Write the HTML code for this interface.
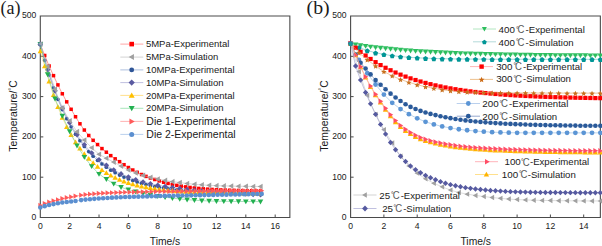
<!DOCTYPE html>
<html><head><meta charset="utf-8"><style>
html,body{margin:0;padding:0;background:#fff;width:602px;height:246px;overflow:hidden;}
svg{display:block;}
</style></head><body>
<svg width="602" height="246" viewBox="0 0 602 246">
<g font-family="Liberation Sans, sans-serif" fill="#1a1a1a">
<text x="0.5" y="13.6" font-family="Liberation Serif, serif" font-size="18">(a)</text>
<text x="0" y="13.6" font-family="Liberation Serif, serif" font-size="18" transform="translate(306.6 0) scale(1.1 1)">(b)</text>
<path d="M40.30 16.00H289.86V217.50H40.30Z" fill="none" stroke="#4a4a4a" stroke-width="1.1"/>
<text x="40.30" y="228.8" font-size="8.6" text-anchor="middle">0</text>
<line x1="69.66" y1="217.50" x2="69.66" y2="214.50" stroke="#4a4a4a" stroke-width="1"/>
<text x="69.66" y="228.8" font-size="8.6" text-anchor="middle">2</text>
<line x1="99.02" y1="217.50" x2="99.02" y2="214.50" stroke="#4a4a4a" stroke-width="1"/>
<text x="99.02" y="228.8" font-size="8.6" text-anchor="middle">4</text>
<line x1="128.38" y1="217.50" x2="128.38" y2="214.50" stroke="#4a4a4a" stroke-width="1"/>
<text x="128.38" y="228.8" font-size="8.6" text-anchor="middle">6</text>
<line x1="157.74" y1="217.50" x2="157.74" y2="214.50" stroke="#4a4a4a" stroke-width="1"/>
<text x="157.74" y="228.8" font-size="8.6" text-anchor="middle">8</text>
<line x1="187.10" y1="217.50" x2="187.10" y2="214.50" stroke="#4a4a4a" stroke-width="1"/>
<text x="187.10" y="228.8" font-size="8.6" text-anchor="middle">10</text>
<line x1="216.46" y1="217.50" x2="216.46" y2="214.50" stroke="#4a4a4a" stroke-width="1"/>
<text x="216.46" y="228.8" font-size="8.6" text-anchor="middle">12</text>
<line x1="245.82" y1="217.50" x2="245.82" y2="214.50" stroke="#4a4a4a" stroke-width="1"/>
<text x="245.82" y="228.8" font-size="8.6" text-anchor="middle">14</text>
<line x1="275.18" y1="217.50" x2="275.18" y2="214.50" stroke="#4a4a4a" stroke-width="1"/>
<text x="275.18" y="228.8" font-size="8.6" text-anchor="middle">16</text>
<text x="36.3" y="219.80" font-size="8.6" text-anchor="end">0</text>
<line x1="40.30" y1="177.20" x2="43.30" y2="177.20" stroke="#4a4a4a" stroke-width="1"/>
<text x="36.3" y="179.50" font-size="8.6" text-anchor="end">100</text>
<line x1="40.30" y1="136.90" x2="43.30" y2="136.90" stroke="#4a4a4a" stroke-width="1"/>
<text x="36.3" y="139.20" font-size="8.6" text-anchor="end">200</text>
<line x1="40.30" y1="96.60" x2="43.30" y2="96.60" stroke="#4a4a4a" stroke-width="1"/>
<text x="36.3" y="98.90" font-size="8.6" text-anchor="end">300</text>
<line x1="40.30" y1="56.30" x2="43.30" y2="56.30" stroke="#4a4a4a" stroke-width="1"/>
<text x="36.3" y="58.60" font-size="8.6" text-anchor="end">400</text>
<text x="36.3" y="18.30" font-size="8.6" text-anchor="end">500</text>
<text x="165" y="244.6" font-size="10.3" text-anchor="middle">Time/s</text>
<g transform="translate(17.2 116.0) rotate(-90)"><text x="0" y="0" font-size="10.4" text-anchor="middle">Temperature/<tspan font-size="6.8" dy="-3.4">°</tspan><tspan dy="3.4">C</tspan></text></g>
<path d="M350.60 16.00H600.35V217.50H350.60Z" fill="none" stroke="#4a4a4a" stroke-width="1.1"/>
<text x="350.60" y="228.8" font-size="8.6" text-anchor="middle">0</text>
<line x1="383.90" y1="217.50" x2="383.90" y2="214.50" stroke="#4a4a4a" stroke-width="1"/>
<text x="383.90" y="228.8" font-size="8.6" text-anchor="middle">2</text>
<line x1="417.20" y1="217.50" x2="417.20" y2="214.50" stroke="#4a4a4a" stroke-width="1"/>
<text x="417.20" y="228.8" font-size="8.6" text-anchor="middle">4</text>
<line x1="450.50" y1="217.50" x2="450.50" y2="214.50" stroke="#4a4a4a" stroke-width="1"/>
<text x="450.50" y="228.8" font-size="8.6" text-anchor="middle">6</text>
<line x1="483.80" y1="217.50" x2="483.80" y2="214.50" stroke="#4a4a4a" stroke-width="1"/>
<text x="483.80" y="228.8" font-size="8.6" text-anchor="middle">8</text>
<line x1="517.10" y1="217.50" x2="517.10" y2="214.50" stroke="#4a4a4a" stroke-width="1"/>
<text x="517.10" y="228.8" font-size="8.6" text-anchor="middle">10</text>
<line x1="550.40" y1="217.50" x2="550.40" y2="214.50" stroke="#4a4a4a" stroke-width="1"/>
<text x="550.40" y="228.8" font-size="8.6" text-anchor="middle">12</text>
<line x1="583.70" y1="217.50" x2="583.70" y2="214.50" stroke="#4a4a4a" stroke-width="1"/>
<text x="583.70" y="228.8" font-size="8.6" text-anchor="middle">14</text>
<text x="346.5" y="219.80" font-size="8.6" text-anchor="end">0</text>
<line x1="350.60" y1="177.20" x2="353.60" y2="177.20" stroke="#4a4a4a" stroke-width="1"/>
<text x="346.5" y="179.50" font-size="8.6" text-anchor="end">100</text>
<line x1="350.60" y1="136.90" x2="353.60" y2="136.90" stroke="#4a4a4a" stroke-width="1"/>
<text x="346.5" y="139.20" font-size="8.6" text-anchor="end">200</text>
<line x1="350.60" y1="96.60" x2="353.60" y2="96.60" stroke="#4a4a4a" stroke-width="1"/>
<text x="346.5" y="98.90" font-size="8.6" text-anchor="end">300</text>
<line x1="350.60" y1="56.30" x2="353.60" y2="56.30" stroke="#4a4a4a" stroke-width="1"/>
<text x="346.5" y="58.60" font-size="8.6" text-anchor="end">400</text>
<text x="346.5" y="18.30" font-size="8.6" text-anchor="end">500</text>
<text x="475.7" y="244.6" font-size="10.3" text-anchor="middle">Time/s</text>
<g transform="translate(327.5 116.0) rotate(-90)"><text x="0" y="0" font-size="10.4" text-anchor="middle">Temperature/<tspan font-size="6.8" dy="-3.4">°</tspan><tspan dy="3.4">C</tspan></text></g>
</g>
<g>
<path d="M40.30 44.21L44.70 55.49L49.11 65.97L53.51 75.64L57.92 84.91L62.32 93.78L66.72 101.84L71.13 109.29L75.53 116.75L79.94 123.80L84.34 130.05L88.74 135.49L93.15 140.33L97.55 144.56L101.96 148.59L106.36 152.21L110.76 155.64L115.17 158.86L119.57 161.68L123.98 164.71L128.38 167.53L132.78 170.01L137.19 172.32L141.59 174.52L146.00 176.39L150.40 178.01L154.80 179.49L159.21 180.89L163.61 182.23L168.02 183.42L172.42 184.45L176.82 185.35L181.23 186.16L185.63 186.87L190.04 187.46L194.44 187.97L198.84 188.42L203.25 188.81L207.65 189.15L212.06 189.44L216.46 189.69L220.86 189.91L225.27 190.10L229.67 190.25L234.08 190.38L238.48 190.50L242.88 190.61L247.29 190.71L251.69 190.79L256.10 190.86L260.50 190.90" fill="none" stroke="#ff5050" stroke-width="0.6"/>
<rect x="38.55" y="42.46" width="3.50" height="3.50" fill="#ff0000"/>
<rect x="42.95" y="53.74" width="3.50" height="3.50" fill="#ff0000"/>
<rect x="47.36" y="64.22" width="3.50" height="3.50" fill="#ff0000"/>
<rect x="51.76" y="73.89" width="3.50" height="3.50" fill="#ff0000"/>
<rect x="56.17" y="83.16" width="3.50" height="3.50" fill="#ff0000"/>
<rect x="60.57" y="92.03" width="3.50" height="3.50" fill="#ff0000"/>
<rect x="64.97" y="100.09" width="3.50" height="3.50" fill="#ff0000"/>
<rect x="69.38" y="107.54" width="3.50" height="3.50" fill="#ff0000"/>
<rect x="73.78" y="115.00" width="3.50" height="3.50" fill="#ff0000"/>
<rect x="78.19" y="122.05" width="3.50" height="3.50" fill="#ff0000"/>
<rect x="82.59" y="128.30" width="3.50" height="3.50" fill="#ff0000"/>
<rect x="86.99" y="133.74" width="3.50" height="3.50" fill="#ff0000"/>
<rect x="91.40" y="138.58" width="3.50" height="3.50" fill="#ff0000"/>
<rect x="95.80" y="142.81" width="3.50" height="3.50" fill="#ff0000"/>
<rect x="100.21" y="146.84" width="3.50" height="3.50" fill="#ff0000"/>
<rect x="104.61" y="150.46" width="3.50" height="3.50" fill="#ff0000"/>
<rect x="109.01" y="153.89" width="3.50" height="3.50" fill="#ff0000"/>
<rect x="113.42" y="157.11" width="3.50" height="3.50" fill="#ff0000"/>
<rect x="117.82" y="159.93" width="3.50" height="3.50" fill="#ff0000"/>
<rect x="122.23" y="162.96" width="3.50" height="3.50" fill="#ff0000"/>
<rect x="126.63" y="165.78" width="3.50" height="3.50" fill="#ff0000"/>
<rect x="131.03" y="168.26" width="3.50" height="3.50" fill="#ff0000"/>
<rect x="135.44" y="170.57" width="3.50" height="3.50" fill="#ff0000"/>
<rect x="139.84" y="172.77" width="3.50" height="3.50" fill="#ff0000"/>
<rect x="144.25" y="174.64" width="3.50" height="3.50" fill="#ff0000"/>
<rect x="148.65" y="176.26" width="3.50" height="3.50" fill="#ff0000"/>
<rect x="153.05" y="177.74" width="3.50" height="3.50" fill="#ff0000"/>
<rect x="157.46" y="179.14" width="3.50" height="3.50" fill="#ff0000"/>
<rect x="161.86" y="180.48" width="3.50" height="3.50" fill="#ff0000"/>
<rect x="166.27" y="181.67" width="3.50" height="3.50" fill="#ff0000"/>
<rect x="170.67" y="182.70" width="3.50" height="3.50" fill="#ff0000"/>
<rect x="175.07" y="183.60" width="3.50" height="3.50" fill="#ff0000"/>
<rect x="179.48" y="184.41" width="3.50" height="3.50" fill="#ff0000"/>
<rect x="183.88" y="185.12" width="3.50" height="3.50" fill="#ff0000"/>
<rect x="188.29" y="185.71" width="3.50" height="3.50" fill="#ff0000"/>
<rect x="192.69" y="186.22" width="3.50" height="3.50" fill="#ff0000"/>
<rect x="197.09" y="186.67" width="3.50" height="3.50" fill="#ff0000"/>
<rect x="201.50" y="187.06" width="3.50" height="3.50" fill="#ff0000"/>
<rect x="205.90" y="187.40" width="3.50" height="3.50" fill="#ff0000"/>
<rect x="210.31" y="187.69" width="3.50" height="3.50" fill="#ff0000"/>
<rect x="214.71" y="187.94" width="3.50" height="3.50" fill="#ff0000"/>
<rect x="219.11" y="188.16" width="3.50" height="3.50" fill="#ff0000"/>
<rect x="223.52" y="188.35" width="3.50" height="3.50" fill="#ff0000"/>
<rect x="227.92" y="188.50" width="3.50" height="3.50" fill="#ff0000"/>
<rect x="232.33" y="188.63" width="3.50" height="3.50" fill="#ff0000"/>
<rect x="236.73" y="188.75" width="3.50" height="3.50" fill="#ff0000"/>
<rect x="241.13" y="188.86" width="3.50" height="3.50" fill="#ff0000"/>
<rect x="245.54" y="188.96" width="3.50" height="3.50" fill="#ff0000"/>
<rect x="249.94" y="189.04" width="3.50" height="3.50" fill="#ff0000"/>
<rect x="254.35" y="189.11" width="3.50" height="3.50" fill="#ff0000"/>
<rect x="258.75" y="189.15" width="3.50" height="3.50" fill="#ff0000"/>
<path d="M40.30 44.21L44.70 60.43L49.11 74.89L53.51 87.79L57.92 99.30L62.32 109.56L66.72 118.71L71.13 126.87L75.53 134.14L79.94 140.63L84.34 146.42L88.74 151.58L93.15 156.19L97.55 160.29L101.96 163.95L106.36 167.22L110.76 170.13L115.17 172.72L119.57 175.04L123.98 177.10L128.38 178.95L132.78 180.59L137.19 182.05L141.59 183.36L146.00 184.52L150.40 185.56L154.80 186.49L159.21 187.32L163.61 188.05L168.02 188.71L172.42 189.30L176.82 189.82L181.23 190.28L185.63 190.70L190.04 191.07L194.44 191.40L198.84 191.70L203.25 191.96L207.65 192.19L212.06 192.40L216.46 192.59L220.86 192.76L225.27 192.90L229.67 193.04L234.08 193.15L238.48 193.26L242.88 193.35L247.29 193.44L251.69 193.51L256.10 193.58L260.50 193.64" fill="none" stroke="#6f8cc0" stroke-width="0.6"/>
<circle cx="40.30" cy="44.21" r="1.85" fill="#2e5597"/>
<circle cx="44.70" cy="60.43" r="1.85" fill="#2e5597"/>
<circle cx="49.11" cy="74.89" r="1.85" fill="#2e5597"/>
<circle cx="53.51" cy="87.79" r="1.85" fill="#2e5597"/>
<circle cx="57.92" cy="99.30" r="1.85" fill="#2e5597"/>
<circle cx="62.32" cy="109.56" r="1.85" fill="#2e5597"/>
<circle cx="66.72" cy="118.71" r="1.85" fill="#2e5597"/>
<circle cx="71.13" cy="126.87" r="1.85" fill="#2e5597"/>
<circle cx="75.53" cy="134.14" r="1.85" fill="#2e5597"/>
<circle cx="79.94" cy="140.63" r="1.85" fill="#2e5597"/>
<circle cx="84.34" cy="146.42" r="1.85" fill="#2e5597"/>
<circle cx="88.74" cy="151.58" r="1.85" fill="#2e5597"/>
<circle cx="93.15" cy="156.19" r="1.85" fill="#2e5597"/>
<circle cx="97.55" cy="160.29" r="1.85" fill="#2e5597"/>
<circle cx="101.96" cy="163.95" r="1.85" fill="#2e5597"/>
<circle cx="106.36" cy="167.22" r="1.85" fill="#2e5597"/>
<circle cx="110.76" cy="170.13" r="1.85" fill="#2e5597"/>
<circle cx="115.17" cy="172.72" r="1.85" fill="#2e5597"/>
<circle cx="119.57" cy="175.04" r="1.85" fill="#2e5597"/>
<circle cx="123.98" cy="177.10" r="1.85" fill="#2e5597"/>
<circle cx="128.38" cy="178.95" r="1.85" fill="#2e5597"/>
<circle cx="132.78" cy="180.59" r="1.85" fill="#2e5597"/>
<circle cx="137.19" cy="182.05" r="1.85" fill="#2e5597"/>
<circle cx="141.59" cy="183.36" r="1.85" fill="#2e5597"/>
<circle cx="146.00" cy="184.52" r="1.85" fill="#2e5597"/>
<circle cx="150.40" cy="185.56" r="1.85" fill="#2e5597"/>
<circle cx="154.80" cy="186.49" r="1.85" fill="#2e5597"/>
<circle cx="159.21" cy="187.32" r="1.85" fill="#2e5597"/>
<circle cx="163.61" cy="188.05" r="1.85" fill="#2e5597"/>
<circle cx="168.02" cy="188.71" r="1.85" fill="#2e5597"/>
<circle cx="172.42" cy="189.30" r="1.85" fill="#2e5597"/>
<circle cx="176.82" cy="189.82" r="1.85" fill="#2e5597"/>
<circle cx="181.23" cy="190.28" r="1.85" fill="#2e5597"/>
<circle cx="185.63" cy="190.70" r="1.85" fill="#2e5597"/>
<circle cx="190.04" cy="191.07" r="1.85" fill="#2e5597"/>
<circle cx="194.44" cy="191.40" r="1.85" fill="#2e5597"/>
<circle cx="198.84" cy="191.70" r="1.85" fill="#2e5597"/>
<circle cx="203.25" cy="191.96" r="1.85" fill="#2e5597"/>
<circle cx="207.65" cy="192.19" r="1.85" fill="#2e5597"/>
<circle cx="212.06" cy="192.40" r="1.85" fill="#2e5597"/>
<circle cx="216.46" cy="192.59" r="1.85" fill="#2e5597"/>
<circle cx="220.86" cy="192.76" r="1.85" fill="#2e5597"/>
<circle cx="225.27" cy="192.90" r="1.85" fill="#2e5597"/>
<circle cx="229.67" cy="193.04" r="1.85" fill="#2e5597"/>
<circle cx="234.08" cy="193.15" r="1.85" fill="#2e5597"/>
<circle cx="238.48" cy="193.26" r="1.85" fill="#2e5597"/>
<circle cx="242.88" cy="193.35" r="1.85" fill="#2e5597"/>
<circle cx="247.29" cy="193.44" r="1.85" fill="#2e5597"/>
<circle cx="251.69" cy="193.51" r="1.85" fill="#2e5597"/>
<circle cx="256.10" cy="193.58" r="1.85" fill="#2e5597"/>
<circle cx="260.50" cy="193.64" r="1.85" fill="#2e5597"/>
<path d="M40.30 44.21L47.64 69.71L54.98 90.83L62.32 108.31L69.66 122.79L77.00 134.78L84.34 144.71L91.68 152.93L99.02 159.73L106.36 165.37L113.70 170.04L121.04 173.90L128.38 177.10L135.72 179.75L143.06 181.95L150.40 183.76L157.74 185.27L165.08 186.51L172.42 187.55L179.76 188.62L187.10 189.55L194.44 190.36L201.78 191.06L209.12 191.69L216.46 192.24L223.80 192.74L231.14 193.19L238.48 193.60L245.82 193.98L253.16 194.33L260.50 194.66" fill="none" stroke="#9898c8" stroke-width="0.6"/>
<path d="M40.30 41.41L43.10 44.21L40.30 47.01L37.50 44.21Z" fill="#5a5aa0"/>
<path d="M47.64 66.91L50.44 69.71L47.64 72.51L44.84 69.71Z" fill="#5a5aa0"/>
<path d="M54.98 88.03L57.78 90.83L54.98 93.63L52.18 90.83Z" fill="#5a5aa0"/>
<path d="M62.32 105.51L65.12 108.31L62.32 111.11L59.52 108.31Z" fill="#5a5aa0"/>
<path d="M69.66 119.99L72.46 122.79L69.66 125.59L66.86 122.79Z" fill="#5a5aa0"/>
<path d="M77.00 131.98L79.80 134.78L77.00 137.58L74.20 134.78Z" fill="#5a5aa0"/>
<path d="M84.34 141.91L87.14 144.71L84.34 147.51L81.54 144.71Z" fill="#5a5aa0"/>
<path d="M91.68 150.13L94.48 152.93L91.68 155.73L88.88 152.93Z" fill="#5a5aa0"/>
<path d="M99.02 156.93L101.82 159.73L99.02 162.53L96.22 159.73Z" fill="#5a5aa0"/>
<path d="M106.36 162.57L109.16 165.37L106.36 168.17L103.56 165.37Z" fill="#5a5aa0"/>
<path d="M113.70 167.24L116.50 170.04L113.70 172.84L110.90 170.04Z" fill="#5a5aa0"/>
<path d="M121.04 171.10L123.84 173.90L121.04 176.70L118.24 173.90Z" fill="#5a5aa0"/>
<path d="M128.38 174.30L131.18 177.10L128.38 179.90L125.58 177.10Z" fill="#5a5aa0"/>
<path d="M135.72 176.95L138.52 179.75L135.72 182.55L132.92 179.75Z" fill="#5a5aa0"/>
<path d="M143.06 179.15L145.86 181.95L143.06 184.75L140.26 181.95Z" fill="#5a5aa0"/>
<path d="M150.40 180.96L153.20 183.76L150.40 186.56L147.60 183.76Z" fill="#5a5aa0"/>
<path d="M157.74 182.47L160.54 185.27L157.74 188.07L154.94 185.27Z" fill="#5a5aa0"/>
<path d="M165.08 183.71L167.88 186.51L165.08 189.31L162.28 186.51Z" fill="#5a5aa0"/>
<path d="M172.42 184.75L175.22 187.55L172.42 190.35L169.62 187.55Z" fill="#5a5aa0"/>
<path d="M179.76 185.82L182.56 188.62L179.76 191.42L176.96 188.62Z" fill="#5a5aa0"/>
<path d="M187.10 186.75L189.90 189.55L187.10 192.35L184.30 189.55Z" fill="#5a5aa0"/>
<path d="M194.44 187.56L197.24 190.36L194.44 193.16L191.64 190.36Z" fill="#5a5aa0"/>
<path d="M201.78 188.26L204.58 191.06L201.78 193.86L198.98 191.06Z" fill="#5a5aa0"/>
<path d="M209.12 188.89L211.92 191.69L209.12 194.49L206.32 191.69Z" fill="#5a5aa0"/>
<path d="M216.46 189.44L219.26 192.24L216.46 195.04L213.66 192.24Z" fill="#5a5aa0"/>
<path d="M223.80 189.94L226.60 192.74L223.80 195.54L221.00 192.74Z" fill="#5a5aa0"/>
<path d="M231.14 190.39L233.94 193.19L231.14 195.99L228.34 193.19Z" fill="#5a5aa0"/>
<path d="M238.48 190.80L241.28 193.60L238.48 196.40L235.68 193.60Z" fill="#5a5aa0"/>
<path d="M245.82 191.18L248.62 193.98L245.82 196.78L243.02 193.98Z" fill="#5a5aa0"/>
<path d="M253.16 191.53L255.96 194.33L253.16 197.13L250.36 194.33Z" fill="#5a5aa0"/>
<path d="M260.50 191.86L263.30 194.66L260.50 197.46L257.70 194.66Z" fill="#5a5aa0"/>
<path d="M40.30 44.21L47.64 66.38L54.98 89.35L62.32 107.88L69.66 120.78L77.00 131.66L84.34 140.12L91.68 147.78L99.02 154.23L106.36 158.26L113.70 162.09L121.04 166.12L128.38 169.95L135.72 172.97L143.06 175.39L150.40 177.40L157.74 179.01L165.08 180.42L172.42 181.63L179.76 182.60L187.10 183.45L194.44 184.22L201.78 184.86L209.12 185.33L216.46 185.66L223.80 185.88L231.14 186.07L238.48 186.23L245.82 186.36L253.16 186.44L260.50 186.47" fill="none" stroke="#c0c0c0" stroke-width="0.6"/>
<path d="M37.50 44.21L42.40 41.41L42.40 47.01Z" fill="#a0a0a0"/>
<path d="M44.84 66.38L49.74 63.58L49.74 69.17Z" fill="#a0a0a0"/>
<path d="M52.18 89.35L57.08 86.55L57.08 92.15Z" fill="#a0a0a0"/>
<path d="M59.52 107.88L64.42 105.08L64.42 110.68Z" fill="#a0a0a0"/>
<path d="M66.86 120.78L71.76 117.98L71.76 123.58Z" fill="#a0a0a0"/>
<path d="M74.20 131.66L79.10 128.86L79.10 134.46Z" fill="#a0a0a0"/>
<path d="M81.54 140.12L86.44 137.32L86.44 142.92Z" fill="#a0a0a0"/>
<path d="M88.88 147.78L93.78 144.98L93.78 150.58Z" fill="#a0a0a0"/>
<path d="M96.22 154.23L101.12 151.43L101.12 157.03Z" fill="#a0a0a0"/>
<path d="M103.56 158.26L108.46 155.46L108.46 161.06Z" fill="#a0a0a0"/>
<path d="M110.90 162.09L115.80 159.29L115.80 164.89Z" fill="#a0a0a0"/>
<path d="M118.24 166.12L123.14 163.32L123.14 168.92Z" fill="#a0a0a0"/>
<path d="M125.58 169.95L130.48 167.15L130.48 172.75Z" fill="#a0a0a0"/>
<path d="M132.92 172.97L137.82 170.17L137.82 175.77Z" fill="#a0a0a0"/>
<path d="M140.26 175.39L145.16 172.59L145.16 178.19Z" fill="#a0a0a0"/>
<path d="M147.60 177.40L152.50 174.60L152.50 180.20Z" fill="#a0a0a0"/>
<path d="M154.94 179.01L159.84 176.21L159.84 181.81Z" fill="#a0a0a0"/>
<path d="M162.28 180.42L167.18 177.62L167.18 183.22Z" fill="#a0a0a0"/>
<path d="M169.62 181.63L174.52 178.83L174.52 184.43Z" fill="#a0a0a0"/>
<path d="M176.96 182.60L181.86 179.80L181.86 185.40Z" fill="#a0a0a0"/>
<path d="M184.30 183.45L189.20 180.65L189.20 186.25Z" fill="#a0a0a0"/>
<path d="M191.64 184.22L196.54 181.42L196.54 187.02Z" fill="#a0a0a0"/>
<path d="M198.98 184.86L203.88 182.06L203.88 187.66Z" fill="#a0a0a0"/>
<path d="M206.32 185.33L211.22 182.53L211.22 188.13Z" fill="#a0a0a0"/>
<path d="M213.66 185.66L218.56 182.86L218.56 188.46Z" fill="#a0a0a0"/>
<path d="M221.00 185.88L225.90 183.08L225.90 188.68Z" fill="#a0a0a0"/>
<path d="M228.34 186.07L233.24 183.27L233.24 188.87Z" fill="#a0a0a0"/>
<path d="M235.68 186.23L240.58 183.43L240.58 189.03Z" fill="#a0a0a0"/>
<path d="M243.02 186.36L247.92 183.56L247.92 189.16Z" fill="#a0a0a0"/>
<path d="M250.36 186.44L255.26 183.64L255.26 189.24Z" fill="#a0a0a0"/>
<path d="M257.70 186.47L262.60 183.67L262.60 189.27Z" fill="#a0a0a0"/>
<path d="M40.30 51.26L44.70 66.22L49.11 81.42L53.51 95.06L57.92 107.07L62.32 117.62L66.72 126.89L71.13 135.03L75.53 142.18L79.94 148.45L84.34 153.97L88.74 158.81L93.15 163.06L97.55 166.80L101.96 170.08L106.36 172.96L110.76 175.48L115.17 177.71L119.57 179.66L123.98 181.37L128.38 182.87L132.78 184.20L137.19 185.36L141.59 186.37L146.00 187.27L150.40 188.06L154.80 188.75L159.21 189.35L163.61 189.88L168.02 190.35L172.42 190.76L176.82 191.12L181.23 191.44L185.63 191.72L190.04 191.96L194.44 192.18L198.84 192.36L203.25 192.53L207.65 192.68L212.06 192.80L216.46 192.92L220.86 193.01L225.27 193.10L229.67 193.18L234.08 193.24L238.48 193.30L242.88 193.35L247.29 193.40L251.69 193.44L256.10 193.47L260.50 193.50" fill="none" stroke="#ffd860" stroke-width="0.6"/>
<path d="M40.30 48.56L43.00 53.29L37.60 53.29Z" fill="#ffc000"/>
<path d="M44.70 63.52L47.40 68.24L42.00 68.24Z" fill="#ffc000"/>
<path d="M49.11 78.72L51.81 83.45L46.41 83.45Z" fill="#ffc000"/>
<path d="M53.51 92.36L56.21 97.08L50.81 97.08Z" fill="#ffc000"/>
<path d="M57.92 104.37L60.62 109.09L55.22 109.09Z" fill="#ffc000"/>
<path d="M62.32 114.92L65.02 119.64L59.62 119.64Z" fill="#ffc000"/>
<path d="M66.72 124.19L69.42 128.91L64.02 128.91Z" fill="#ffc000"/>
<path d="M71.13 132.33L73.83 137.05L68.43 137.05Z" fill="#ffc000"/>
<path d="M75.53 139.48L78.23 144.20L72.83 144.20Z" fill="#ffc000"/>
<path d="M79.94 145.75L82.64 150.48L77.24 150.48Z" fill="#ffc000"/>
<path d="M84.34 151.27L87.04 155.99L81.64 155.99Z" fill="#ffc000"/>
<path d="M88.74 156.11L91.44 160.83L86.04 160.83Z" fill="#ffc000"/>
<path d="M93.15 160.36L95.85 165.09L90.45 165.09Z" fill="#ffc000"/>
<path d="M97.55 164.10L100.25 168.82L94.85 168.82Z" fill="#ffc000"/>
<path d="M101.96 167.38L104.66 172.10L99.26 172.10Z" fill="#ffc000"/>
<path d="M106.36 170.26L109.06 174.98L103.66 174.98Z" fill="#ffc000"/>
<path d="M110.76 172.78L113.46 177.51L108.06 177.51Z" fill="#ffc000"/>
<path d="M115.17 175.01L117.87 179.73L112.47 179.73Z" fill="#ffc000"/>
<path d="M119.57 176.96L122.27 181.68L116.87 181.68Z" fill="#ffc000"/>
<path d="M123.98 178.67L126.68 183.39L121.28 183.39Z" fill="#ffc000"/>
<path d="M128.38 180.17L131.08 184.90L125.68 184.90Z" fill="#ffc000"/>
<path d="M132.78 181.50L135.48 186.22L130.08 186.22Z" fill="#ffc000"/>
<path d="M137.19 182.66L139.89 187.38L134.49 187.38Z" fill="#ffc000"/>
<path d="M141.59 183.67L144.29 188.40L138.89 188.40Z" fill="#ffc000"/>
<path d="M146.00 184.57L148.70 189.29L143.30 189.29Z" fill="#ffc000"/>
<path d="M150.40 185.36L153.10 190.08L147.70 190.08Z" fill="#ffc000"/>
<path d="M154.80 186.05L157.50 190.77L152.10 190.77Z" fill="#ffc000"/>
<path d="M159.21 186.65L161.91 191.38L156.51 191.38Z" fill="#ffc000"/>
<path d="M163.61 187.18L166.31 191.91L160.91 191.91Z" fill="#ffc000"/>
<path d="M168.02 187.65L170.72 192.38L165.32 192.38Z" fill="#ffc000"/>
<path d="M172.42 188.06L175.12 192.79L169.72 192.79Z" fill="#ffc000"/>
<path d="M176.82 188.42L179.52 193.15L174.12 193.15Z" fill="#ffc000"/>
<path d="M181.23 188.74L183.93 193.46L178.53 193.46Z" fill="#ffc000"/>
<path d="M185.63 189.02L188.33 193.74L182.93 193.74Z" fill="#ffc000"/>
<path d="M190.04 189.26L192.74 193.99L187.34 193.99Z" fill="#ffc000"/>
<path d="M194.44 189.48L197.14 194.20L191.74 194.20Z" fill="#ffc000"/>
<path d="M198.84 189.66L201.54 194.39L196.14 194.39Z" fill="#ffc000"/>
<path d="M203.25 189.83L205.95 194.56L200.55 194.56Z" fill="#ffc000"/>
<path d="M207.65 189.98L210.35 194.70L204.95 194.70Z" fill="#ffc000"/>
<path d="M212.06 190.10L214.76 194.83L209.36 194.83Z" fill="#ffc000"/>
<path d="M216.46 190.22L219.16 194.94L213.76 194.94Z" fill="#ffc000"/>
<path d="M220.86 190.31L223.56 195.04L218.16 195.04Z" fill="#ffc000"/>
<path d="M225.27 190.40L227.97 195.12L222.57 195.12Z" fill="#ffc000"/>
<path d="M229.67 190.48L232.37 195.20L226.97 195.20Z" fill="#ffc000"/>
<path d="M234.08 190.54L236.78 195.27L231.38 195.27Z" fill="#ffc000"/>
<path d="M238.48 190.60L241.18 195.33L235.78 195.33Z" fill="#ffc000"/>
<path d="M242.88 190.65L245.58 195.38L240.18 195.38Z" fill="#ffc000"/>
<path d="M247.29 190.70L249.99 195.42L244.59 195.42Z" fill="#ffc000"/>
<path d="M251.69 190.74L254.39 195.46L248.99 195.46Z" fill="#ffc000"/>
<path d="M256.10 190.77L258.80 195.50L253.40 195.50Z" fill="#ffc000"/>
<path d="M260.50 190.80L263.20 195.53L257.80 195.53Z" fill="#ffc000"/>
<path d="M40.30 44.21L47.64 74.44L54.98 98.62L62.32 115.97L69.66 131.36L77.00 145.63L84.34 157.05L91.68 166.32L99.02 173.98L106.36 179.21L113.70 183.76L121.04 187.19L128.38 189.69L135.72 191.60L143.06 193.32L150.40 194.83L157.74 196.14L165.08 197.24L172.42 198.16L179.76 198.93L187.10 199.63L194.44 200.22L201.78 200.65L209.12 200.97L216.46 201.18L223.80 201.29L231.14 201.39L238.48 201.47L245.82 201.53L253.16 201.57L260.50 201.58" fill="none" stroke="#70d090" stroke-width="0.6"/>
<path d="M40.30 47.01L43.10 42.11L37.50 42.11Z" fill="#22b050"/>
<path d="M47.64 77.23L50.44 72.34L44.84 72.34Z" fill="#22b050"/>
<path d="M54.98 101.42L57.78 96.52L52.18 96.52Z" fill="#22b050"/>
<path d="M62.32 118.77L65.12 113.87L59.52 113.87Z" fill="#22b050"/>
<path d="M69.66 134.16L72.46 129.26L66.86 129.26Z" fill="#22b050"/>
<path d="M77.00 148.43L79.80 143.53L74.20 143.53Z" fill="#22b050"/>
<path d="M84.34 159.85L87.14 154.95L81.54 154.95Z" fill="#22b050"/>
<path d="M91.68 169.12L94.48 164.22L88.88 164.22Z" fill="#22b050"/>
<path d="M99.02 176.78L101.82 171.88L96.22 171.88Z" fill="#22b050"/>
<path d="M106.36 182.01L109.16 177.11L103.56 177.11Z" fill="#22b050"/>
<path d="M113.70 186.56L116.50 181.66L110.90 181.66Z" fill="#22b050"/>
<path d="M121.04 189.99L123.84 185.09L118.24 185.09Z" fill="#22b050"/>
<path d="M128.38 192.49L131.18 187.59L125.58 187.59Z" fill="#22b050"/>
<path d="M135.72 194.40L138.52 189.50L132.92 189.50Z" fill="#22b050"/>
<path d="M143.06 196.12L145.86 191.22L140.26 191.22Z" fill="#22b050"/>
<path d="M150.40 197.63L153.20 192.73L147.60 192.73Z" fill="#22b050"/>
<path d="M157.74 198.94L160.54 194.04L154.94 194.04Z" fill="#22b050"/>
<path d="M165.08 200.04L167.88 195.14L162.28 195.14Z" fill="#22b050"/>
<path d="M172.42 200.96L175.22 196.06L169.62 196.06Z" fill="#22b050"/>
<path d="M179.76 201.73L182.56 196.83L176.96 196.83Z" fill="#22b050"/>
<path d="M187.10 202.43L189.90 197.53L184.30 197.53Z" fill="#22b050"/>
<path d="M194.44 203.02L197.24 198.12L191.64 198.12Z" fill="#22b050"/>
<path d="M201.78 203.45L204.58 198.55L198.98 198.55Z" fill="#22b050"/>
<path d="M209.12 203.77L211.92 198.87L206.32 198.87Z" fill="#22b050"/>
<path d="M216.46 203.98L219.26 199.08L213.66 199.08Z" fill="#22b050"/>
<path d="M223.80 204.09L226.60 199.19L221.00 199.19Z" fill="#22b050"/>
<path d="M231.14 204.19L233.94 199.29L228.34 199.29Z" fill="#22b050"/>
<path d="M238.48 204.27L241.28 199.37L235.68 199.37Z" fill="#22b050"/>
<path d="M245.82 204.33L248.62 199.43L243.02 199.43Z" fill="#22b050"/>
<path d="M253.16 204.37L255.96 199.47L250.36 199.47Z" fill="#22b050"/>
<path d="M260.50 204.38L263.30 199.48L257.70 199.48Z" fill="#22b050"/>
<path d="M40.30 205.41L44.70 203.53L49.11 201.98L53.51 200.83L57.92 199.77L62.32 198.59L66.72 197.69L71.13 196.89L75.53 196.11L81.11 195.13L85.51 194.60L89.92 194.16L94.32 193.78L98.73 193.44L103.13 193.17L107.53 192.94L111.94 192.74L116.34 192.56L120.75 192.40L125.15 192.27L129.55 192.14L133.96 192.03L138.36 191.92L142.77 191.83L147.17 191.74L151.57 191.66L155.98 191.59L160.38 191.52L164.79 191.45L169.19 191.39L173.59 191.33L178.00 191.28L182.40 191.23L186.81 191.19L191.21 191.15L195.61 191.11L200.02 191.07L204.42 191.03L208.83 190.99L213.23 190.96L217.63 190.92L222.04 190.89L226.44 190.86L230.85 190.83L235.25 190.80L239.65 190.78L244.06 190.75L248.46 190.74L252.87 190.72L257.27 190.71L261.67 190.70" fill="none" stroke="#ff9090" stroke-width="0.6"/>
<path d="M42.90 205.41L38.35 202.81L38.35 208.01Z" fill="#ff5a5a"/>
<path d="M47.30 203.53L42.75 200.93L42.75 206.13Z" fill="#ff5a5a"/>
<path d="M51.71 201.98L47.16 199.38L47.16 204.58Z" fill="#ff5a5a"/>
<path d="M56.11 200.83L51.56 198.23L51.56 203.43Z" fill="#ff5a5a"/>
<path d="M60.52 199.77L55.97 197.17L55.97 202.37Z" fill="#ff5a5a"/>
<path d="M64.92 198.59L60.37 195.99L60.37 201.19Z" fill="#ff5a5a"/>
<path d="M69.32 197.69L64.77 195.09L64.77 200.29Z" fill="#ff5a5a"/>
<path d="M73.73 196.89L69.18 194.29L69.18 199.49Z" fill="#ff5a5a"/>
<path d="M78.13 196.11L73.58 193.51L73.58 198.71Z" fill="#ff5a5a"/>
<path d="M83.71 195.13L79.16 192.53L79.16 197.73Z" fill="#ff5a5a"/>
<path d="M88.11 194.60L83.56 192.00L83.56 197.20Z" fill="#ff5a5a"/>
<path d="M92.52 194.16L87.97 191.56L87.97 196.76Z" fill="#ff5a5a"/>
<path d="M96.92 193.78L92.37 191.18L92.37 196.38Z" fill="#ff5a5a"/>
<path d="M101.33 193.44L96.78 190.84L96.78 196.04Z" fill="#ff5a5a"/>
<path d="M105.73 193.17L101.18 190.57L101.18 195.77Z" fill="#ff5a5a"/>
<path d="M110.13 192.94L105.58 190.34L105.58 195.54Z" fill="#ff5a5a"/>
<path d="M114.54 192.74L109.99 190.14L109.99 195.34Z" fill="#ff5a5a"/>
<path d="M118.94 192.56L114.39 189.96L114.39 195.16Z" fill="#ff5a5a"/>
<path d="M123.35 192.40L118.80 189.80L118.80 195.00Z" fill="#ff5a5a"/>
<path d="M127.75 192.27L123.20 189.67L123.20 194.87Z" fill="#ff5a5a"/>
<path d="M132.15 192.14L127.60 189.54L127.60 194.74Z" fill="#ff5a5a"/>
<path d="M136.56 192.03L132.01 189.43L132.01 194.63Z" fill="#ff5a5a"/>
<path d="M140.96 191.92L136.41 189.32L136.41 194.52Z" fill="#ff5a5a"/>
<path d="M145.37 191.83L140.82 189.23L140.82 194.43Z" fill="#ff5a5a"/>
<path d="M149.77 191.74L145.22 189.14L145.22 194.34Z" fill="#ff5a5a"/>
<path d="M154.17 191.66L149.62 189.06L149.62 194.26Z" fill="#ff5a5a"/>
<path d="M158.58 191.59L154.03 188.99L154.03 194.19Z" fill="#ff5a5a"/>
<path d="M162.98 191.52L158.43 188.92L158.43 194.12Z" fill="#ff5a5a"/>
<path d="M167.39 191.45L162.84 188.85L162.84 194.05Z" fill="#ff5a5a"/>
<path d="M171.79 191.39L167.24 188.79L167.24 193.99Z" fill="#ff5a5a"/>
<path d="M176.19 191.33L171.64 188.73L171.64 193.93Z" fill="#ff5a5a"/>
<path d="M180.60 191.28L176.05 188.68L176.05 193.88Z" fill="#ff5a5a"/>
<path d="M185.00 191.23L180.45 188.63L180.45 193.83Z" fill="#ff5a5a"/>
<path d="M189.41 191.19L184.86 188.59L184.86 193.79Z" fill="#ff5a5a"/>
<path d="M193.81 191.15L189.26 188.55L189.26 193.75Z" fill="#ff5a5a"/>
<path d="M198.21 191.11L193.66 188.51L193.66 193.71Z" fill="#ff5a5a"/>
<path d="M202.62 191.07L198.07 188.47L198.07 193.67Z" fill="#ff5a5a"/>
<path d="M207.02 191.03L202.47 188.43L202.47 193.63Z" fill="#ff5a5a"/>
<path d="M211.43 190.99L206.88 188.39L206.88 193.59Z" fill="#ff5a5a"/>
<path d="M215.83 190.96L211.28 188.36L211.28 193.56Z" fill="#ff5a5a"/>
<path d="M220.23 190.92L215.68 188.32L215.68 193.52Z" fill="#ff5a5a"/>
<path d="M224.64 190.89L220.09 188.29L220.09 193.49Z" fill="#ff5a5a"/>
<path d="M229.04 190.86L224.49 188.26L224.49 193.46Z" fill="#ff5a5a"/>
<path d="M233.45 190.83L228.90 188.23L228.90 193.43Z" fill="#ff5a5a"/>
<path d="M237.85 190.80L233.30 188.20L233.30 193.40Z" fill="#ff5a5a"/>
<path d="M242.25 190.78L237.70 188.18L237.70 193.38Z" fill="#ff5a5a"/>
<path d="M246.66 190.75L242.11 188.15L242.11 193.35Z" fill="#ff5a5a"/>
<path d="M251.06 190.74L246.51 188.14L246.51 193.34Z" fill="#ff5a5a"/>
<path d="M255.47 190.72L250.92 188.12L250.92 193.32Z" fill="#ff5a5a"/>
<path d="M259.87 190.71L255.32 188.11L255.32 193.31Z" fill="#ff5a5a"/>
<path d="M264.27 190.70L259.72 188.10L259.72 193.30Z" fill="#ff5a5a"/>
<path d="M40.30 207.43L44.70 206.16L49.11 205.06L53.51 204.10L57.92 203.22L62.32 202.48L66.72 201.95L71.13 201.48L75.53 200.96L81.11 200.12L85.51 199.62L89.92 199.19L94.32 198.84L98.73 198.53L103.13 198.24L107.53 197.93L111.94 197.65L116.34 197.42L120.75 197.23L125.15 197.06L129.55 196.91L133.96 196.77L138.36 196.63L142.77 196.51L147.17 196.39L151.57 196.27L155.98 196.15L160.38 196.03L164.79 195.92L169.19 195.81L173.59 195.71L178.00 195.61L182.40 195.52L186.81 195.43L191.21 195.35L195.61 195.26L200.02 195.17L204.42 195.08L208.83 194.99L213.23 194.90L217.63 194.81L222.04 194.72L226.44 194.63L230.85 194.54L235.25 194.44L239.65 194.35L244.06 194.26L248.46 194.17L252.87 194.08L257.27 193.99L261.67 193.90" fill="none" stroke="#8fb4e0" stroke-width="0.6"/>
<circle cx="40.30" cy="207.43" r="2.30" fill="#5b8fd0"/>
<circle cx="44.70" cy="206.16" r="2.30" fill="#5b8fd0"/>
<circle cx="49.11" cy="205.06" r="2.30" fill="#5b8fd0"/>
<circle cx="53.51" cy="204.10" r="2.30" fill="#5b8fd0"/>
<circle cx="57.92" cy="203.22" r="2.30" fill="#5b8fd0"/>
<circle cx="62.32" cy="202.48" r="2.30" fill="#5b8fd0"/>
<circle cx="66.72" cy="201.95" r="2.30" fill="#5b8fd0"/>
<circle cx="71.13" cy="201.48" r="2.30" fill="#5b8fd0"/>
<circle cx="75.53" cy="200.96" r="2.30" fill="#5b8fd0"/>
<circle cx="81.11" cy="200.12" r="2.30" fill="#5b8fd0"/>
<circle cx="85.51" cy="199.62" r="2.30" fill="#5b8fd0"/>
<circle cx="89.92" cy="199.19" r="2.30" fill="#5b8fd0"/>
<circle cx="94.32" cy="198.84" r="2.30" fill="#5b8fd0"/>
<circle cx="98.73" cy="198.53" r="2.30" fill="#5b8fd0"/>
<circle cx="103.13" cy="198.24" r="2.30" fill="#5b8fd0"/>
<circle cx="107.53" cy="197.93" r="2.30" fill="#5b8fd0"/>
<circle cx="111.94" cy="197.65" r="2.30" fill="#5b8fd0"/>
<circle cx="116.34" cy="197.42" r="2.30" fill="#5b8fd0"/>
<circle cx="120.75" cy="197.23" r="2.30" fill="#5b8fd0"/>
<circle cx="125.15" cy="197.06" r="2.30" fill="#5b8fd0"/>
<circle cx="129.55" cy="196.91" r="2.30" fill="#5b8fd0"/>
<circle cx="133.96" cy="196.77" r="2.30" fill="#5b8fd0"/>
<circle cx="138.36" cy="196.63" r="2.30" fill="#5b8fd0"/>
<circle cx="142.77" cy="196.51" r="2.30" fill="#5b8fd0"/>
<circle cx="147.17" cy="196.39" r="2.30" fill="#5b8fd0"/>
<circle cx="151.57" cy="196.27" r="2.30" fill="#5b8fd0"/>
<circle cx="155.98" cy="196.15" r="2.30" fill="#5b8fd0"/>
<circle cx="160.38" cy="196.03" r="2.30" fill="#5b8fd0"/>
<circle cx="164.79" cy="195.92" r="2.30" fill="#5b8fd0"/>
<circle cx="169.19" cy="195.81" r="2.30" fill="#5b8fd0"/>
<circle cx="173.59" cy="195.71" r="2.30" fill="#5b8fd0"/>
<circle cx="178.00" cy="195.61" r="2.30" fill="#5b8fd0"/>
<circle cx="182.40" cy="195.52" r="2.30" fill="#5b8fd0"/>
<circle cx="186.81" cy="195.43" r="2.30" fill="#5b8fd0"/>
<circle cx="191.21" cy="195.35" r="2.30" fill="#5b8fd0"/>
<circle cx="195.61" cy="195.26" r="2.30" fill="#5b8fd0"/>
<circle cx="200.02" cy="195.17" r="2.30" fill="#5b8fd0"/>
<circle cx="204.42" cy="195.08" r="2.30" fill="#5b8fd0"/>
<circle cx="208.83" cy="194.99" r="2.30" fill="#5b8fd0"/>
<circle cx="213.23" cy="194.90" r="2.30" fill="#5b8fd0"/>
<circle cx="217.63" cy="194.81" r="2.30" fill="#5b8fd0"/>
<circle cx="222.04" cy="194.72" r="2.30" fill="#5b8fd0"/>
<circle cx="226.44" cy="194.63" r="2.30" fill="#5b8fd0"/>
<circle cx="230.85" cy="194.54" r="2.30" fill="#5b8fd0"/>
<circle cx="235.25" cy="194.44" r="2.30" fill="#5b8fd0"/>
<circle cx="239.65" cy="194.35" r="2.30" fill="#5b8fd0"/>
<circle cx="244.06" cy="194.26" r="2.30" fill="#5b8fd0"/>
<circle cx="248.46" cy="194.17" r="2.30" fill="#5b8fd0"/>
<circle cx="252.87" cy="194.08" r="2.30" fill="#5b8fd0"/>
<circle cx="257.27" cy="193.99" r="2.30" fill="#5b8fd0"/>
<circle cx="261.67" cy="193.90" r="2.30" fill="#5b8fd0"/>
<circle cx="40.30" cy="44.21" r="2.30" fill="#5a7fa8"/>
<path d="M38.10 43.81L42.47 41.31L42.47 46.31Z" fill="#9aa4ae"/>
</g>
<g font-family="Liberation Sans, sans-serif" fill="#1a1a1a">
<line x1="120.3" y1="44.1" x2="143.3" y2="44.1" stroke="#ff9090" stroke-width="0.8"/>
<rect x="129.40" y="41.80" width="4.60" height="4.60" fill="#ff0000"/>
<text x="145.9" y="47.25" font-size="9.5">5MPa-Experimental</text>
<line x1="120.3" y1="57.1" x2="143.3" y2="57.1" stroke="#c8c8c8" stroke-width="0.8"/>
<path d="M128.70 57.10L133.95 54.10L133.95 60.10Z" fill="#a0a0a0"/>
<text x="145.9" y="60.25" font-size="9.5">5MPa-Simulation</text>
<line x1="120.3" y1="69.9" x2="143.3" y2="69.9" stroke="#9ab0d8" stroke-width="0.8"/>
<circle cx="131.70" cy="69.90" r="2.40" fill="#2e5597"/>
<text x="145.9" y="73.05" font-size="9.5">10MPa-Experimental</text>
<line x1="120.3" y1="82.6" x2="143.3" y2="82.6" stroke="#b0b0d8" stroke-width="0.8"/>
<path d="M131.70 79.50L134.80 82.60L131.70 85.70L128.60 82.60Z" fill="#5a5aa0"/>
<text x="145.9" y="85.75" font-size="9.5">10MPa-Simulation</text>
<line x1="120.3" y1="95.4" x2="143.3" y2="95.4" stroke="#ffd870" stroke-width="0.8"/>
<path d="M131.70 92.40L134.70 97.65L128.70 97.65Z" fill="#ffc000"/>
<text x="145.9" y="98.55" font-size="9.5">20MPa-Experimental</text>
<line x1="120.3" y1="108.3" x2="143.3" y2="108.3" stroke="#90e0a8" stroke-width="0.8"/>
<path d="M131.70 111.30L134.70 106.05L128.70 106.05Z" fill="#22b050"/>
<text x="145.9" y="111.45" font-size="9.5">20MPa-Simulation</text>
<line x1="120.3" y1="121.4" x2="143.3" y2="121.4" stroke="#ffa0a0" stroke-width="0.8"/>
<path d="M134.70 121.40L129.45 118.40L129.45 124.40Z" fill="#ff5a5a"/>
<text x="146.3" y="124.90" font-size="10.5">Die 1-Experimental</text>
<line x1="120.3" y1="134.4" x2="143.3" y2="134.4" stroke="#a8c4e8" stroke-width="0.8"/>
<circle cx="131.70" cy="134.40" r="2.50" fill="#5b8fd0"/>
<text x="146.3" y="137.90" font-size="10.5">Die 2-Experimental</text>
</g>
<g>
<path d="M350.60 43.77L355.60 44.59L360.59 45.35L365.59 46.07L370.58 46.73L375.58 47.35L380.57 47.92L385.56 48.46L390.56 48.96L395.56 49.43L400.55 49.87L405.55 50.28L410.54 50.66L415.54 51.01L420.53 51.34L425.53 51.65L430.52 51.94L435.51 52.21L440.51 52.46L445.50 52.69L450.50 52.91L455.50 53.11L460.49 53.30L465.49 53.48L470.48 53.64L475.48 53.80L480.47 53.94L485.47 54.07L490.46 54.20L495.46 54.31L500.45 54.42L505.44 54.52L510.44 54.62L515.43 54.71L520.43 54.79L525.42 54.87L530.42 54.94L535.41 55.00L540.41 55.07L545.40 55.12L550.40 55.18L555.39 55.23L560.39 55.28L565.38 55.32L570.38 55.36L575.38 55.40L580.37 55.43L585.37 55.47L590.36 55.50L595.36 55.53L600.35 55.55" fill="none" stroke="#80d8a0" stroke-width="0.6"/>
<path d="M350.60 46.57L353.40 41.67L347.80 41.67Z" fill="#2dbe5e"/>
<path d="M355.60 47.39L358.40 42.49L352.80 42.49Z" fill="#2dbe5e"/>
<path d="M360.59 48.15L363.39 43.25L357.79 43.25Z" fill="#2dbe5e"/>
<path d="M365.59 48.87L368.39 43.97L362.79 43.97Z" fill="#2dbe5e"/>
<path d="M370.58 49.53L373.38 44.63L367.78 44.63Z" fill="#2dbe5e"/>
<path d="M375.58 50.15L378.38 45.25L372.78 45.25Z" fill="#2dbe5e"/>
<path d="M380.57 50.72L383.37 45.82L377.77 45.82Z" fill="#2dbe5e"/>
<path d="M385.56 51.26L388.37 46.36L382.76 46.36Z" fill="#2dbe5e"/>
<path d="M390.56 51.76L393.36 46.86L387.76 46.86Z" fill="#2dbe5e"/>
<path d="M395.56 52.23L398.36 47.33L392.75 47.33Z" fill="#2dbe5e"/>
<path d="M400.55 52.67L403.35 47.77L397.75 47.77Z" fill="#2dbe5e"/>
<path d="M405.55 53.08L408.35 48.18L402.75 48.18Z" fill="#2dbe5e"/>
<path d="M410.54 53.46L413.34 48.56L407.74 48.56Z" fill="#2dbe5e"/>
<path d="M415.54 53.81L418.34 48.91L412.74 48.91Z" fill="#2dbe5e"/>
<path d="M420.53 54.14L423.33 49.24L417.73 49.24Z" fill="#2dbe5e"/>
<path d="M425.53 54.45L428.33 49.55L422.73 49.55Z" fill="#2dbe5e"/>
<path d="M430.52 54.74L433.32 49.84L427.72 49.84Z" fill="#2dbe5e"/>
<path d="M435.51 55.01L438.31 50.11L432.71 50.11Z" fill="#2dbe5e"/>
<path d="M440.51 55.26L443.31 50.36L437.71 50.36Z" fill="#2dbe5e"/>
<path d="M445.50 55.49L448.31 50.59L442.70 50.59Z" fill="#2dbe5e"/>
<path d="M450.50 55.71L453.30 50.81L447.70 50.81Z" fill="#2dbe5e"/>
<path d="M455.50 55.91L458.30 51.01L452.69 51.01Z" fill="#2dbe5e"/>
<path d="M460.49 56.10L463.29 51.20L457.69 51.20Z" fill="#2dbe5e"/>
<path d="M465.49 56.28L468.29 51.38L462.69 51.38Z" fill="#2dbe5e"/>
<path d="M470.48 56.44L473.28 51.54L467.68 51.54Z" fill="#2dbe5e"/>
<path d="M475.48 56.60L478.28 51.70L472.68 51.70Z" fill="#2dbe5e"/>
<path d="M480.47 56.74L483.27 51.84L477.67 51.84Z" fill="#2dbe5e"/>
<path d="M485.47 56.87L488.27 51.97L482.67 51.97Z" fill="#2dbe5e"/>
<path d="M490.46 57.00L493.26 52.10L487.66 52.10Z" fill="#2dbe5e"/>
<path d="M495.46 57.11L498.26 52.21L492.66 52.21Z" fill="#2dbe5e"/>
<path d="M500.45 57.22L503.25 52.32L497.65 52.32Z" fill="#2dbe5e"/>
<path d="M505.44 57.32L508.25 52.42L502.64 52.42Z" fill="#2dbe5e"/>
<path d="M510.44 57.42L513.24 52.52L507.64 52.52Z" fill="#2dbe5e"/>
<path d="M515.43 57.51L518.23 52.61L512.63 52.61Z" fill="#2dbe5e"/>
<path d="M520.43 57.59L523.23 52.69L517.63 52.69Z" fill="#2dbe5e"/>
<path d="M525.42 57.67L528.22 52.77L522.62 52.77Z" fill="#2dbe5e"/>
<path d="M530.42 57.74L533.22 52.84L527.62 52.84Z" fill="#2dbe5e"/>
<path d="M535.41 57.80L538.21 52.90L532.62 52.90Z" fill="#2dbe5e"/>
<path d="M540.41 57.87L543.21 52.97L537.61 52.97Z" fill="#2dbe5e"/>
<path d="M545.40 57.92L548.20 53.02L542.61 53.02Z" fill="#2dbe5e"/>
<path d="M550.40 57.98L553.20 53.08L547.60 53.08Z" fill="#2dbe5e"/>
<path d="M555.39 58.03L558.19 53.13L552.60 53.13Z" fill="#2dbe5e"/>
<path d="M560.39 58.08L563.19 53.18L557.59 53.18Z" fill="#2dbe5e"/>
<path d="M565.38 58.12L568.18 53.22L562.59 53.22Z" fill="#2dbe5e"/>
<path d="M570.38 58.16L573.18 53.26L567.58 53.26Z" fill="#2dbe5e"/>
<path d="M575.38 58.20L578.17 53.30L572.58 53.30Z" fill="#2dbe5e"/>
<path d="M580.37 58.23L583.17 53.33L577.57 53.33Z" fill="#2dbe5e"/>
<path d="M585.37 58.27L588.16 53.37L582.57 53.37Z" fill="#2dbe5e"/>
<path d="M590.36 58.30L593.16 53.40L587.56 53.40Z" fill="#2dbe5e"/>
<path d="M595.36 58.33L598.15 53.43L592.56 53.43Z" fill="#2dbe5e"/>
<path d="M600.35 58.35L603.15 53.45L597.55 53.45Z" fill="#2dbe5e"/>
<path d="M350.60 43.40L358.93 47.46L367.25 50.48L375.58 52.74L383.90 54.41L392.23 55.66L400.55 56.60L408.88 57.29L417.20 57.81L425.53 58.19L433.85 58.48L442.18 58.70L450.50 58.86L458.83 58.97L467.15 59.06L475.48 59.13L483.80 59.18L492.12 59.22L500.45 59.24L508.77 59.26L517.10 59.28L525.42 59.29L533.75 59.30L542.08 59.30L550.40 59.31L558.73 59.31L567.05 59.31L575.38 59.32L583.70 59.32L592.02 59.32L600.35 59.32" fill="none" stroke="#70c0c0" stroke-width="0.6"/>
<path d="M350.60 41.20L353.17 43.07L352.19 46.09L349.01 46.09L348.03 43.07Z" fill="#009696"/>
<path d="M358.93 45.26L361.49 47.13L360.51 50.14L357.34 50.14L356.36 47.13Z" fill="#009696"/>
<path d="M367.25 48.28L369.82 50.15L368.84 53.17L365.66 53.17L364.68 50.15Z" fill="#009696"/>
<path d="M375.58 50.54L378.14 52.40L377.16 55.42L373.99 55.42L373.01 52.40Z" fill="#009696"/>
<path d="M383.90 52.21L386.47 54.08L385.49 57.10L382.31 57.10L381.33 54.08Z" fill="#009696"/>
<path d="M392.23 53.46L394.79 55.33L393.81 58.35L390.64 58.35L389.66 55.33Z" fill="#009696"/>
<path d="M400.55 54.40L403.12 56.26L402.14 59.28L398.96 59.28L397.98 56.26Z" fill="#009696"/>
<path d="M408.88 55.09L411.44 56.96L410.46 59.98L407.29 59.98L406.31 56.96Z" fill="#009696"/>
<path d="M417.20 55.61L419.77 57.47L418.79 60.49L415.61 60.49L414.63 57.47Z" fill="#009696"/>
<path d="M425.53 55.99L428.09 57.86L427.11 60.88L423.94 60.88L422.96 57.86Z" fill="#009696"/>
<path d="M433.85 56.28L436.42 58.15L435.44 61.17L432.26 61.17L431.28 58.15Z" fill="#009696"/>
<path d="M442.18 56.50L444.74 58.36L443.76 61.38L440.59 61.38L439.61 58.36Z" fill="#009696"/>
<path d="M450.50 56.66L453.07 58.52L452.09 61.54L448.91 61.54L447.93 58.52Z" fill="#009696"/>
<path d="M458.83 56.77L461.39 58.64L460.41 61.66L457.24 61.66L456.26 58.64Z" fill="#009696"/>
<path d="M467.15 56.86L469.72 58.73L468.74 61.75L465.56 61.75L464.58 58.73Z" fill="#009696"/>
<path d="M475.48 56.93L478.04 58.80L477.06 61.81L473.89 61.81L472.91 58.80Z" fill="#009696"/>
<path d="M483.80 56.98L486.37 58.84L485.39 61.86L482.21 61.86L481.23 58.84Z" fill="#009696"/>
<path d="M492.12 57.02L494.69 58.88L493.71 61.90L490.54 61.90L489.56 58.88Z" fill="#009696"/>
<path d="M500.45 57.04L503.02 58.91L502.04 61.93L498.86 61.93L497.88 58.91Z" fill="#009696"/>
<path d="M508.77 57.06L511.34 58.93L510.36 61.95L507.19 61.95L506.21 58.93Z" fill="#009696"/>
<path d="M517.10 57.08L519.67 58.94L518.69 61.96L515.51 61.96L514.53 58.94Z" fill="#009696"/>
<path d="M525.42 57.09L527.99 58.96L527.01 61.97L523.84 61.97L522.86 58.96Z" fill="#009696"/>
<path d="M533.75 57.10L536.32 58.96L535.34 61.98L532.16 61.98L531.18 58.96Z" fill="#009696"/>
<path d="M542.08 57.10L544.64 58.97L543.66 61.99L540.49 61.99L539.51 58.97Z" fill="#009696"/>
<path d="M550.40 57.11L552.97 58.97L551.99 61.99L548.81 61.99L547.83 58.97Z" fill="#009696"/>
<path d="M558.73 57.11L561.29 58.98L560.31 62.00L557.14 62.00L556.16 58.98Z" fill="#009696"/>
<path d="M567.05 57.11L569.62 58.98L568.64 62.00L565.46 62.00L564.48 58.98Z" fill="#009696"/>
<path d="M575.38 57.12L577.94 58.98L576.96 62.00L573.79 62.00L572.81 58.98Z" fill="#009696"/>
<path d="M583.70 57.12L586.27 58.98L585.29 62.00L582.11 62.00L581.13 58.98Z" fill="#009696"/>
<path d="M592.02 57.12L594.59 58.99L593.61 62.00L590.44 62.00L589.46 58.99Z" fill="#009696"/>
<path d="M600.35 57.12L602.92 58.99L601.94 62.00L598.76 62.00L597.78 58.99Z" fill="#009696"/>
<path d="M350.60 43.28L355.60 47.71L360.59 51.78L365.59 55.53L370.58 58.98L375.58 62.16L380.57 65.09L385.56 67.78L390.56 70.26L395.56 72.55L400.55 74.65L405.55 76.59L410.54 78.37L415.54 80.01L420.53 81.52L425.53 82.91L430.52 84.19L435.51 85.37L440.51 86.46L445.50 87.46L450.50 88.38L455.50 89.22L460.49 90.00L465.49 90.72L470.48 91.38L475.48 91.99L480.47 92.55L485.47 93.07L490.46 93.54L495.46 93.98L500.45 94.38L505.44 94.76L510.44 95.10L515.43 95.41L520.43 95.70L525.42 95.97L530.42 96.21L535.41 96.44L540.41 96.65L545.40 96.84L550.40 97.01L555.39 97.18L560.39 97.32L565.38 97.46L570.38 97.59L575.38 97.71L580.37 97.81L585.37 97.91L590.36 98.00L595.36 98.09L600.35 98.16" fill="none" stroke="#ff6060" stroke-width="0.6"/>
<rect x="348.50" y="41.18" width="4.20" height="4.20" fill="#ff0000"/>
<rect x="353.50" y="45.61" width="4.20" height="4.20" fill="#ff0000"/>
<rect x="358.49" y="49.68" width="4.20" height="4.20" fill="#ff0000"/>
<rect x="363.49" y="53.43" width="4.20" height="4.20" fill="#ff0000"/>
<rect x="368.48" y="56.88" width="4.20" height="4.20" fill="#ff0000"/>
<rect x="373.48" y="60.06" width="4.20" height="4.20" fill="#ff0000"/>
<rect x="378.47" y="62.99" width="4.20" height="4.20" fill="#ff0000"/>
<rect x="383.46" y="65.68" width="4.20" height="4.20" fill="#ff0000"/>
<rect x="388.46" y="68.16" width="4.20" height="4.20" fill="#ff0000"/>
<rect x="393.45" y="70.45" width="4.20" height="4.20" fill="#ff0000"/>
<rect x="398.45" y="72.55" width="4.20" height="4.20" fill="#ff0000"/>
<rect x="403.44" y="74.49" width="4.20" height="4.20" fill="#ff0000"/>
<rect x="408.44" y="76.27" width="4.20" height="4.20" fill="#ff0000"/>
<rect x="413.44" y="77.91" width="4.20" height="4.20" fill="#ff0000"/>
<rect x="418.43" y="79.42" width="4.20" height="4.20" fill="#ff0000"/>
<rect x="423.43" y="80.81" width="4.20" height="4.20" fill="#ff0000"/>
<rect x="428.42" y="82.09" width="4.20" height="4.20" fill="#ff0000"/>
<rect x="433.41" y="83.27" width="4.20" height="4.20" fill="#ff0000"/>
<rect x="438.41" y="84.36" width="4.20" height="4.20" fill="#ff0000"/>
<rect x="443.40" y="85.36" width="4.20" height="4.20" fill="#ff0000"/>
<rect x="448.40" y="86.28" width="4.20" height="4.20" fill="#ff0000"/>
<rect x="453.39" y="87.12" width="4.20" height="4.20" fill="#ff0000"/>
<rect x="458.39" y="87.90" width="4.20" height="4.20" fill="#ff0000"/>
<rect x="463.38" y="88.62" width="4.20" height="4.20" fill="#ff0000"/>
<rect x="468.38" y="89.28" width="4.20" height="4.20" fill="#ff0000"/>
<rect x="473.38" y="89.89" width="4.20" height="4.20" fill="#ff0000"/>
<rect x="478.37" y="90.45" width="4.20" height="4.20" fill="#ff0000"/>
<rect x="483.37" y="90.97" width="4.20" height="4.20" fill="#ff0000"/>
<rect x="488.36" y="91.44" width="4.20" height="4.20" fill="#ff0000"/>
<rect x="493.36" y="91.88" width="4.20" height="4.20" fill="#ff0000"/>
<rect x="498.35" y="92.28" width="4.20" height="4.20" fill="#ff0000"/>
<rect x="503.34" y="92.66" width="4.20" height="4.20" fill="#ff0000"/>
<rect x="508.34" y="93.00" width="4.20" height="4.20" fill="#ff0000"/>
<rect x="513.33" y="93.31" width="4.20" height="4.20" fill="#ff0000"/>
<rect x="518.33" y="93.60" width="4.20" height="4.20" fill="#ff0000"/>
<rect x="523.32" y="93.87" width="4.20" height="4.20" fill="#ff0000"/>
<rect x="528.32" y="94.11" width="4.20" height="4.20" fill="#ff0000"/>
<rect x="533.31" y="94.34" width="4.20" height="4.20" fill="#ff0000"/>
<rect x="538.31" y="94.55" width="4.20" height="4.20" fill="#ff0000"/>
<rect x="543.30" y="94.74" width="4.20" height="4.20" fill="#ff0000"/>
<rect x="548.30" y="94.91" width="4.20" height="4.20" fill="#ff0000"/>
<rect x="553.29" y="95.08" width="4.20" height="4.20" fill="#ff0000"/>
<rect x="558.29" y="95.22" width="4.20" height="4.20" fill="#ff0000"/>
<rect x="563.28" y="95.36" width="4.20" height="4.20" fill="#ff0000"/>
<rect x="568.28" y="95.49" width="4.20" height="4.20" fill="#ff0000"/>
<rect x="573.27" y="95.61" width="4.20" height="4.20" fill="#ff0000"/>
<rect x="578.27" y="95.71" width="4.20" height="4.20" fill="#ff0000"/>
<rect x="583.26" y="95.81" width="4.20" height="4.20" fill="#ff0000"/>
<rect x="588.26" y="95.90" width="4.20" height="4.20" fill="#ff0000"/>
<rect x="593.25" y="95.99" width="4.20" height="4.20" fill="#ff0000"/>
<rect x="598.25" y="96.06" width="4.20" height="4.20" fill="#ff0000"/>
<path d="M350.60 43.40L358.93 52.67L367.25 59.73L375.58 65.97L383.90 71.61L392.23 75.85L400.55 79.47L408.88 82.29L417.20 84.71L425.53 86.73L433.85 88.34L442.18 89.75L450.50 90.76L458.83 91.45L467.15 91.97L475.48 92.33L483.80 92.57L492.12 92.72L500.45 92.83L508.77 92.92L517.10 92.97L525.42 93.01L533.75 93.04L542.08 93.07L550.40 93.10L558.73 93.12L567.05 93.14L575.38 93.15L583.70 93.17L592.02 93.17L600.35 93.17" fill="none" stroke="#e0a060" stroke-width="0.6"/>
<path d="M350.60 40.90L351.37 42.75L353.36 42.91L351.84 44.21L352.30 46.15L350.60 45.11L348.90 46.15L349.36 44.21L347.84 42.91L349.83 42.75Z" fill="#c8701e"/>
<path d="M358.93 50.17L359.69 52.02L361.68 52.18L360.17 53.48L360.63 55.42L358.93 54.38L357.22 55.42L357.68 53.48L356.17 52.18L358.16 52.02Z" fill="#c8701e"/>
<path d="M367.25 57.23L368.02 59.07L370.01 59.23L368.49 60.53L368.95 62.47L367.25 61.43L365.55 62.47L366.01 60.53L364.49 59.23L366.48 59.07Z" fill="#c8701e"/>
<path d="M375.58 63.47L376.34 65.32L378.33 65.48L376.82 66.78L377.28 68.72L375.58 67.68L373.87 68.72L374.33 66.78L372.82 65.48L374.81 65.32Z" fill="#c8701e"/>
<path d="M383.90 69.11L384.67 70.96L386.66 71.12L385.14 72.42L385.60 74.36L383.90 73.32L382.20 74.36L382.66 72.42L381.14 71.12L383.13 70.96Z" fill="#c8701e"/>
<path d="M392.23 73.35L392.99 75.19L394.98 75.35L393.47 76.65L393.93 78.59L392.23 77.55L390.52 78.59L390.98 76.65L389.47 75.35L391.46 75.19Z" fill="#c8701e"/>
<path d="M400.55 76.97L401.32 78.82L403.31 78.98L401.79 80.28L402.25 82.22L400.55 81.18L398.85 82.22L399.31 80.28L397.79 78.98L399.78 78.82Z" fill="#c8701e"/>
<path d="M408.88 79.79L409.64 81.64L411.63 81.80L410.12 83.10L410.58 85.04L408.88 84.00L407.17 85.04L407.63 83.10L406.12 81.80L408.11 81.64Z" fill="#c8701e"/>
<path d="M417.20 82.21L417.97 84.06L419.96 84.22L418.44 85.51L418.90 87.46L417.20 86.42L415.50 87.46L415.96 85.51L414.44 84.22L416.43 84.06Z" fill="#c8701e"/>
<path d="M425.53 84.23L426.29 86.07L428.28 86.23L426.77 87.53L427.23 89.47L425.53 88.43L423.82 89.47L424.28 87.53L422.77 86.23L424.76 86.07Z" fill="#c8701e"/>
<path d="M433.85 85.84L434.62 87.68L436.61 87.84L435.09 89.14L435.55 91.08L433.85 90.04L432.15 91.08L432.61 89.14L431.09 87.84L433.08 87.68Z" fill="#c8701e"/>
<path d="M442.18 87.25L442.94 89.09L444.93 89.25L443.42 90.55L443.88 92.50L442.18 91.45L440.47 92.50L440.93 90.55L439.42 89.25L441.41 89.09Z" fill="#c8701e"/>
<path d="M450.50 88.26L451.27 90.10L453.26 90.26L451.74 91.56L452.20 93.50L450.50 92.46L448.80 93.50L449.26 91.56L447.74 90.26L449.73 90.10Z" fill="#c8701e"/>
<path d="M458.83 88.95L459.59 90.80L461.58 90.96L460.07 92.26L460.53 94.20L458.83 93.16L457.12 94.20L457.58 92.26L456.07 90.96L458.06 90.80Z" fill="#c8701e"/>
<path d="M467.15 89.47L467.92 91.31L469.91 91.47L468.39 92.77L468.85 94.71L467.15 93.67L465.45 94.71L465.91 92.77L464.39 91.47L466.38 91.31Z" fill="#c8701e"/>
<path d="M475.48 89.83L476.24 91.67L478.23 91.83L476.72 93.13L477.18 95.07L475.48 94.03L473.77 95.07L474.23 93.13L472.72 91.83L474.71 91.67Z" fill="#c8701e"/>
<path d="M483.80 90.07L484.57 91.91L486.56 92.07L485.04 93.37L485.50 95.32L483.80 94.28L482.10 95.32L482.56 93.37L481.04 92.07L483.03 91.91Z" fill="#c8701e"/>
<path d="M492.12 90.22L492.89 92.06L494.88 92.22L493.37 93.52L493.83 95.46L492.12 94.42L490.42 95.46L490.88 93.52L489.37 92.22L491.36 92.06Z" fill="#c8701e"/>
<path d="M500.45 90.33L501.22 92.18L503.21 92.34L501.69 93.64L502.15 95.58L500.45 94.54L498.75 95.58L499.21 93.64L497.69 92.34L499.68 92.18Z" fill="#c8701e"/>
<path d="M508.77 90.42L509.54 92.26L511.53 92.42L510.02 93.72L510.48 95.67L508.77 94.62L507.07 95.67L507.53 93.72L506.02 92.42L508.01 92.26Z" fill="#c8701e"/>
<path d="M517.10 90.47L517.87 92.32L519.86 92.48L518.34 93.78L518.80 95.72L517.10 94.68L515.40 95.72L515.86 93.78L514.34 92.48L516.33 92.32Z" fill="#c8701e"/>
<path d="M525.42 90.51L526.19 92.35L528.18 92.51L526.67 93.81L527.13 95.75L525.42 94.71L523.72 95.75L524.18 93.81L522.67 92.51L524.66 92.35Z" fill="#c8701e"/>
<path d="M533.75 90.54L534.52 92.39L536.51 92.55L534.99 93.84L535.45 95.79L533.75 94.75L532.05 95.79L532.51 93.84L530.99 92.55L532.98 92.39Z" fill="#c8701e"/>
<path d="M542.08 90.57L542.84 92.42L544.83 92.57L543.32 93.87L543.78 95.82L542.08 94.78L540.37 95.82L540.83 93.87L539.32 92.57L541.31 92.42Z" fill="#c8701e"/>
<path d="M550.40 90.60L551.17 92.44L553.16 92.60L551.64 93.90L552.10 95.84L550.40 94.80L548.70 95.84L549.16 93.90L547.64 92.60L549.63 92.44Z" fill="#c8701e"/>
<path d="M558.73 90.62L559.49 92.46L561.48 92.62L559.97 93.92L560.43 95.87L558.73 94.83L557.02 95.87L557.48 93.92L555.97 92.62L557.96 92.46Z" fill="#c8701e"/>
<path d="M567.05 90.64L567.82 92.48L569.81 92.64L568.29 93.94L568.75 95.89L567.05 94.84L565.35 95.89L565.81 93.94L564.29 92.64L566.28 92.48Z" fill="#c8701e"/>
<path d="M575.38 90.65L576.14 92.50L578.13 92.66L576.62 93.96L577.08 95.90L575.38 94.86L573.67 95.90L574.13 93.96L572.62 92.66L574.61 92.50Z" fill="#c8701e"/>
<path d="M583.70 90.67L584.47 92.51L586.46 92.67L584.94 93.97L585.40 95.91L583.70 94.87L582.00 95.91L582.46 93.97L580.94 92.67L582.93 92.51Z" fill="#c8701e"/>
<path d="M592.02 90.67L592.79 92.52L594.78 92.68L593.27 93.98L593.73 95.92L592.02 94.88L590.32 95.92L590.78 93.98L589.27 92.68L591.26 92.52Z" fill="#c8701e"/>
<path d="M600.35 90.67L601.12 92.52L603.11 92.68L601.59 93.98L602.05 95.92L600.35 94.88L598.65 95.92L599.11 93.98L597.59 92.68L599.58 92.52Z" fill="#c8701e"/>
<path d="M350.60 43.40L358.93 59.93L367.25 73.23L375.58 84.51L383.90 94.58L392.23 102.85L400.55 109.09L408.88 114.13L417.20 118.36L425.53 121.79L433.85 124.41L442.18 126.42L450.50 128.03L458.83 129.24L467.15 130.25L475.48 131.04L483.80 131.66L492.12 132.13L500.45 132.47L508.77 132.68L517.10 132.79L525.42 132.82L533.75 132.85L542.08 132.86L550.40 132.87L558.73 132.87L567.05 132.87L575.38 132.87L583.70 132.87L592.02 132.87L600.35 132.87" fill="none" stroke="#90b8e0" stroke-width="0.6"/>
<circle cx="350.60" cy="43.40" r="2.40" fill="#5b95d5"/>
<circle cx="358.93" cy="59.93" r="2.40" fill="#5b95d5"/>
<circle cx="367.25" cy="73.23" r="2.40" fill="#5b95d5"/>
<circle cx="375.58" cy="84.51" r="2.40" fill="#5b95d5"/>
<circle cx="383.90" cy="94.58" r="2.40" fill="#5b95d5"/>
<circle cx="392.23" cy="102.85" r="2.40" fill="#5b95d5"/>
<circle cx="400.55" cy="109.09" r="2.40" fill="#5b95d5"/>
<circle cx="408.88" cy="114.13" r="2.40" fill="#5b95d5"/>
<circle cx="417.20" cy="118.36" r="2.40" fill="#5b95d5"/>
<circle cx="425.53" cy="121.79" r="2.40" fill="#5b95d5"/>
<circle cx="433.85" cy="124.41" r="2.40" fill="#5b95d5"/>
<circle cx="442.18" cy="126.42" r="2.40" fill="#5b95d5"/>
<circle cx="450.50" cy="128.03" r="2.40" fill="#5b95d5"/>
<circle cx="458.83" cy="129.24" r="2.40" fill="#5b95d5"/>
<circle cx="467.15" cy="130.25" r="2.40" fill="#5b95d5"/>
<circle cx="475.48" cy="131.04" r="2.40" fill="#5b95d5"/>
<circle cx="483.80" cy="131.66" r="2.40" fill="#5b95d5"/>
<circle cx="492.12" cy="132.13" r="2.40" fill="#5b95d5"/>
<circle cx="500.45" cy="132.47" r="2.40" fill="#5b95d5"/>
<circle cx="508.77" cy="132.68" r="2.40" fill="#5b95d5"/>
<circle cx="517.10" cy="132.79" r="2.40" fill="#5b95d5"/>
<circle cx="525.42" cy="132.82" r="2.40" fill="#5b95d5"/>
<circle cx="533.75" cy="132.85" r="2.40" fill="#5b95d5"/>
<circle cx="542.08" cy="132.86" r="2.40" fill="#5b95d5"/>
<circle cx="550.40" cy="132.87" r="2.40" fill="#5b95d5"/>
<circle cx="558.73" cy="132.87" r="2.40" fill="#5b95d5"/>
<circle cx="567.05" cy="132.87" r="2.40" fill="#5b95d5"/>
<circle cx="575.38" cy="132.87" r="2.40" fill="#5b95d5"/>
<circle cx="583.70" cy="132.87" r="2.40" fill="#5b95d5"/>
<circle cx="592.02" cy="132.87" r="2.40" fill="#5b95d5"/>
<circle cx="600.35" cy="132.87" r="2.40" fill="#5b95d5"/>
<path d="M350.60 43.40L355.60 54.51L360.59 62.68L365.59 68.50L370.58 74.41L375.58 80.08L380.57 84.79L385.56 89.23L390.56 93.63L395.56 97.54L400.55 101.03L405.55 104.22L410.54 106.89L415.54 109.05L420.53 110.91L425.53 112.52L430.52 113.91L435.51 115.12L440.51 116.21L445.50 117.22L450.50 118.16L455.50 119.05L460.49 119.80L465.49 120.40L470.48 120.93L475.48 121.44L480.47 121.90L485.47 122.33L490.46 122.72L495.46 123.08L500.45 123.40L505.44 123.68L510.44 123.92L515.43 124.14L520.43 124.33L525.42 124.51L530.42 124.69L535.41 124.85L540.41 124.99L545.40 125.11L550.40 125.21L555.39 125.30L560.39 125.39L565.38 125.47L570.38 125.55L575.38 125.62L580.37 125.68L585.37 125.73L590.36 125.78L595.36 125.80L600.35 125.82" fill="none" stroke="#6f8cc0" stroke-width="0.6"/>
<circle cx="350.60" cy="43.40" r="2.30" fill="#2a5a9a"/>
<circle cx="355.60" cy="54.51" r="2.30" fill="#2a5a9a"/>
<circle cx="360.59" cy="62.68" r="2.30" fill="#2a5a9a"/>
<circle cx="365.59" cy="68.50" r="2.30" fill="#2a5a9a"/>
<circle cx="370.58" cy="74.41" r="2.30" fill="#2a5a9a"/>
<circle cx="375.58" cy="80.08" r="2.30" fill="#2a5a9a"/>
<circle cx="380.57" cy="84.79" r="2.30" fill="#2a5a9a"/>
<circle cx="385.56" cy="89.23" r="2.30" fill="#2a5a9a"/>
<circle cx="390.56" cy="93.63" r="2.30" fill="#2a5a9a"/>
<circle cx="395.56" cy="97.54" r="2.30" fill="#2a5a9a"/>
<circle cx="400.55" cy="101.03" r="2.30" fill="#2a5a9a"/>
<circle cx="405.55" cy="104.22" r="2.30" fill="#2a5a9a"/>
<circle cx="410.54" cy="106.89" r="2.30" fill="#2a5a9a"/>
<circle cx="415.54" cy="109.05" r="2.30" fill="#2a5a9a"/>
<circle cx="420.53" cy="110.91" r="2.30" fill="#2a5a9a"/>
<circle cx="425.53" cy="112.52" r="2.30" fill="#2a5a9a"/>
<circle cx="430.52" cy="113.91" r="2.30" fill="#2a5a9a"/>
<circle cx="435.51" cy="115.12" r="2.30" fill="#2a5a9a"/>
<circle cx="440.51" cy="116.21" r="2.30" fill="#2a5a9a"/>
<circle cx="445.50" cy="117.22" r="2.30" fill="#2a5a9a"/>
<circle cx="450.50" cy="118.16" r="2.30" fill="#2a5a9a"/>
<circle cx="455.50" cy="119.05" r="2.30" fill="#2a5a9a"/>
<circle cx="460.49" cy="119.80" r="2.30" fill="#2a5a9a"/>
<circle cx="465.49" cy="120.40" r="2.30" fill="#2a5a9a"/>
<circle cx="470.48" cy="120.93" r="2.30" fill="#2a5a9a"/>
<circle cx="475.48" cy="121.44" r="2.30" fill="#2a5a9a"/>
<circle cx="480.47" cy="121.90" r="2.30" fill="#2a5a9a"/>
<circle cx="485.47" cy="122.33" r="2.30" fill="#2a5a9a"/>
<circle cx="490.46" cy="122.72" r="2.30" fill="#2a5a9a"/>
<circle cx="495.46" cy="123.08" r="2.30" fill="#2a5a9a"/>
<circle cx="500.45" cy="123.40" r="2.30" fill="#2a5a9a"/>
<circle cx="505.44" cy="123.68" r="2.30" fill="#2a5a9a"/>
<circle cx="510.44" cy="123.92" r="2.30" fill="#2a5a9a"/>
<circle cx="515.43" cy="124.14" r="2.30" fill="#2a5a9a"/>
<circle cx="520.43" cy="124.33" r="2.30" fill="#2a5a9a"/>
<circle cx="525.42" cy="124.51" r="2.30" fill="#2a5a9a"/>
<circle cx="530.42" cy="124.69" r="2.30" fill="#2a5a9a"/>
<circle cx="535.41" cy="124.85" r="2.30" fill="#2a5a9a"/>
<circle cx="540.41" cy="124.99" r="2.30" fill="#2a5a9a"/>
<circle cx="545.40" cy="125.11" r="2.30" fill="#2a5a9a"/>
<circle cx="550.40" cy="125.21" r="2.30" fill="#2a5a9a"/>
<circle cx="555.39" cy="125.30" r="2.30" fill="#2a5a9a"/>
<circle cx="560.39" cy="125.39" r="2.30" fill="#2a5a9a"/>
<circle cx="565.38" cy="125.47" r="2.30" fill="#2a5a9a"/>
<circle cx="570.38" cy="125.55" r="2.30" fill="#2a5a9a"/>
<circle cx="575.38" cy="125.62" r="2.30" fill="#2a5a9a"/>
<circle cx="580.37" cy="125.68" r="2.30" fill="#2a5a9a"/>
<circle cx="585.37" cy="125.73" r="2.30" fill="#2a5a9a"/>
<circle cx="590.36" cy="125.78" r="2.30" fill="#2a5a9a"/>
<circle cx="595.36" cy="125.80" r="2.30" fill="#2a5a9a"/>
<circle cx="600.35" cy="125.82" r="2.30" fill="#2a5a9a"/>
<path d="M350.60 43.40L355.60 55.28L360.59 67.16L365.59 77.43L370.58 86.90L375.58 95.15L380.57 102.40L385.56 109.64L390.56 116.28L395.56 122.19L400.55 127.03L405.55 130.85L410.54 134.08L415.54 136.90L420.53 139.12L425.53 140.93L430.52 142.34L435.51 143.55L440.51 144.63L445.50 145.56L450.50 146.37L455.50 147.13L460.49 147.78L465.49 148.32L470.48 148.79L475.48 149.19L480.47 149.54L485.47 149.84L490.46 150.12L495.46 150.36L500.45 150.59L505.44 150.79L510.44 150.98L515.43 151.15L520.43 151.31L525.42 151.46L530.42 151.60L535.41 151.73L540.41 151.84L545.40 151.94L550.40 152.01L555.39 152.07L560.39 152.13L565.38 152.19L570.38 152.24L575.38 152.29L580.37 152.33L585.37 152.37L590.36 152.39L595.36 152.41L600.35 152.42" fill="none" stroke="#ffd060" stroke-width="0.6"/>
<path d="M350.60 40.70L353.30 45.43L347.90 45.43Z" fill="#ffb400"/>
<path d="M355.60 52.58L358.30 57.31L352.90 57.31Z" fill="#ffb400"/>
<path d="M360.59 64.46L363.29 69.19L357.89 69.19Z" fill="#ffb400"/>
<path d="M365.59 74.73L368.29 79.46L362.89 79.46Z" fill="#ffb400"/>
<path d="M370.58 84.20L373.28 88.92L367.88 88.92Z" fill="#ffb400"/>
<path d="M375.58 92.45L378.28 97.17L372.88 97.17Z" fill="#ffb400"/>
<path d="M380.57 99.70L383.27 104.42L377.87 104.42Z" fill="#ffb400"/>
<path d="M385.56 106.94L388.26 111.67L382.87 111.67Z" fill="#ffb400"/>
<path d="M390.56 113.58L393.26 118.31L387.86 118.31Z" fill="#ffb400"/>
<path d="M395.56 119.49L398.25 124.22L392.86 124.22Z" fill="#ffb400"/>
<path d="M400.55 124.33L403.25 129.05L397.85 129.05Z" fill="#ffb400"/>
<path d="M405.55 128.16L408.25 132.88L402.85 132.88Z" fill="#ffb400"/>
<path d="M410.54 131.38L413.24 136.10L407.84 136.10Z" fill="#ffb400"/>
<path d="M415.54 134.20L418.24 138.92L412.84 138.92Z" fill="#ffb400"/>
<path d="M420.53 136.42L423.23 141.14L417.83 141.14Z" fill="#ffb400"/>
<path d="M425.53 138.23L428.23 142.96L422.83 142.96Z" fill="#ffb400"/>
<path d="M430.52 139.64L433.22 144.37L427.82 144.37Z" fill="#ffb400"/>
<path d="M435.51 140.85L438.21 145.57L432.81 145.57Z" fill="#ffb400"/>
<path d="M440.51 141.93L443.21 146.66L437.81 146.66Z" fill="#ffb400"/>
<path d="M445.50 142.86L448.20 147.58L442.81 147.58Z" fill="#ffb400"/>
<path d="M450.50 143.67L453.20 148.40L447.80 148.40Z" fill="#ffb400"/>
<path d="M455.50 144.43L458.19 149.15L452.80 149.15Z" fill="#ffb400"/>
<path d="M460.49 145.08L463.19 149.81L457.79 149.81Z" fill="#ffb400"/>
<path d="M465.49 145.62L468.19 150.34L462.79 150.34Z" fill="#ffb400"/>
<path d="M470.48 146.09L473.18 150.81L467.78 150.81Z" fill="#ffb400"/>
<path d="M475.48 146.49L478.18 151.22L472.78 151.22Z" fill="#ffb400"/>
<path d="M480.47 146.84L483.17 151.56L477.77 151.56Z" fill="#ffb400"/>
<path d="M485.47 147.14L488.17 151.87L482.77 151.87Z" fill="#ffb400"/>
<path d="M490.46 147.42L493.16 152.14L487.76 152.14Z" fill="#ffb400"/>
<path d="M495.46 147.66L498.16 152.38L492.76 152.38Z" fill="#ffb400"/>
<path d="M500.45 147.89L503.15 152.61L497.75 152.61Z" fill="#ffb400"/>
<path d="M505.44 148.09L508.14 152.82L502.75 152.82Z" fill="#ffb400"/>
<path d="M510.44 148.28L513.14 153.01L507.74 153.01Z" fill="#ffb400"/>
<path d="M515.43 148.45L518.13 153.18L512.73 153.18Z" fill="#ffb400"/>
<path d="M520.43 148.61L523.13 153.33L517.73 153.33Z" fill="#ffb400"/>
<path d="M525.42 148.76L528.12 153.48L522.72 153.48Z" fill="#ffb400"/>
<path d="M530.42 148.90L533.12 153.62L527.72 153.62Z" fill="#ffb400"/>
<path d="M535.41 149.03L538.12 153.75L532.71 153.75Z" fill="#ffb400"/>
<path d="M540.41 149.14L543.11 153.87L537.71 153.87Z" fill="#ffb400"/>
<path d="M545.40 149.24L548.11 153.96L542.70 153.96Z" fill="#ffb400"/>
<path d="M550.40 149.31L553.10 154.04L547.70 154.04Z" fill="#ffb400"/>
<path d="M555.39 149.37L558.10 154.10L552.69 154.10Z" fill="#ffb400"/>
<path d="M560.39 149.43L563.09 154.16L557.69 154.16Z" fill="#ffb400"/>
<path d="M565.38 149.49L568.09 154.22L562.68 154.22Z" fill="#ffb400"/>
<path d="M570.38 149.54L573.08 154.27L567.68 154.27Z" fill="#ffb400"/>
<path d="M575.38 149.59L578.08 154.32L572.67 154.32Z" fill="#ffb400"/>
<path d="M580.37 149.63L583.07 154.36L577.67 154.36Z" fill="#ffb400"/>
<path d="M585.37 149.67L588.07 154.39L582.66 154.39Z" fill="#ffb400"/>
<path d="M590.36 149.69L593.06 154.42L587.66 154.42Z" fill="#ffb400"/>
<path d="M595.36 149.71L598.06 154.43L592.65 154.43Z" fill="#ffb400"/>
<path d="M600.35 149.72L603.05 154.44L597.65 154.44Z" fill="#ffb400"/>
<path d="M350.60 43.40L355.60 55.09L360.59 66.78L365.59 76.85L370.58 86.12L375.58 94.18L380.57 101.23L385.56 108.29L390.56 114.73L395.56 120.58L400.55 125.41L405.55 129.24L410.54 132.47L415.54 135.29L420.53 137.50L425.53 139.32L430.52 140.73L435.51 141.94L440.51 143.02L445.50 143.95L450.50 144.76L455.50 145.51L460.49 146.17L465.49 146.71L470.48 147.18L475.48 147.58L480.47 147.93L485.47 148.23L490.46 148.50L495.46 148.75L500.45 148.97L505.44 149.18L510.44 149.37L515.43 149.54L520.43 149.70L525.42 149.84L530.42 149.99L535.41 150.11L540.41 150.23L545.40 150.33L550.40 150.40L555.39 150.46L560.39 150.52L565.38 150.58L570.38 150.63L575.38 150.68L580.37 150.72L585.37 150.76L590.36 150.78L595.36 150.80L600.35 150.80" fill="none" stroke="#ff8c9c" stroke-width="0.6"/>
<path d="M353.30 43.40L348.58 40.70L348.58 46.10Z" fill="#ff4d66"/>
<path d="M358.30 55.09L353.57 52.39L353.57 57.79Z" fill="#ff4d66"/>
<path d="M363.29 66.78L358.57 64.08L358.57 69.48Z" fill="#ff4d66"/>
<path d="M368.29 76.85L363.56 74.15L363.56 79.55Z" fill="#ff4d66"/>
<path d="M373.28 86.12L368.56 83.42L368.56 88.82Z" fill="#ff4d66"/>
<path d="M378.28 94.18L373.55 91.48L373.55 96.88Z" fill="#ff4d66"/>
<path d="M383.27 101.23L378.55 98.53L378.55 103.93Z" fill="#ff4d66"/>
<path d="M388.26 108.29L383.54 105.59L383.54 110.99Z" fill="#ff4d66"/>
<path d="M393.26 114.73L388.54 112.03L388.54 117.44Z" fill="#ff4d66"/>
<path d="M398.25 120.58L393.53 117.88L393.53 123.28Z" fill="#ff4d66"/>
<path d="M403.25 125.41L398.53 122.71L398.53 128.11Z" fill="#ff4d66"/>
<path d="M408.25 129.24L403.52 126.54L403.52 131.94Z" fill="#ff4d66"/>
<path d="M413.24 132.47L408.52 129.77L408.52 135.17Z" fill="#ff4d66"/>
<path d="M418.24 135.29L413.51 132.59L413.51 137.99Z" fill="#ff4d66"/>
<path d="M423.23 137.50L418.51 134.80L418.51 140.20Z" fill="#ff4d66"/>
<path d="M428.23 139.32L423.50 136.62L423.50 142.02Z" fill="#ff4d66"/>
<path d="M433.22 140.73L428.50 138.03L428.50 143.43Z" fill="#ff4d66"/>
<path d="M438.21 141.94L433.49 139.24L433.49 144.64Z" fill="#ff4d66"/>
<path d="M443.21 143.02L438.49 140.32L438.49 145.72Z" fill="#ff4d66"/>
<path d="M448.20 143.95L443.48 141.25L443.48 146.65Z" fill="#ff4d66"/>
<path d="M453.20 144.76L448.48 142.06L448.48 147.46Z" fill="#ff4d66"/>
<path d="M458.19 145.51L453.47 142.81L453.47 148.21Z" fill="#ff4d66"/>
<path d="M463.19 146.17L458.47 143.47L458.47 148.87Z" fill="#ff4d66"/>
<path d="M468.19 146.71L463.46 144.01L463.46 149.41Z" fill="#ff4d66"/>
<path d="M473.18 147.18L468.46 144.48L468.46 149.88Z" fill="#ff4d66"/>
<path d="M478.18 147.58L473.45 144.88L473.45 150.28Z" fill="#ff4d66"/>
<path d="M483.17 147.93L478.45 145.23L478.45 150.63Z" fill="#ff4d66"/>
<path d="M488.17 148.23L483.44 145.53L483.44 150.93Z" fill="#ff4d66"/>
<path d="M493.16 148.50L488.44 145.80L488.44 151.20Z" fill="#ff4d66"/>
<path d="M498.16 148.75L493.43 146.05L493.43 151.45Z" fill="#ff4d66"/>
<path d="M503.15 148.97L498.43 146.27L498.43 151.67Z" fill="#ff4d66"/>
<path d="M508.14 149.18L503.42 146.48L503.42 151.88Z" fill="#ff4d66"/>
<path d="M513.14 149.37L508.42 146.67L508.42 152.07Z" fill="#ff4d66"/>
<path d="M518.13 149.54L513.41 146.84L513.41 152.24Z" fill="#ff4d66"/>
<path d="M523.13 149.70L518.41 147.00L518.41 152.40Z" fill="#ff4d66"/>
<path d="M528.12 149.84L523.40 147.14L523.40 152.54Z" fill="#ff4d66"/>
<path d="M533.12 149.99L528.39 147.29L528.39 152.69Z" fill="#ff4d66"/>
<path d="M538.12 150.11L533.39 147.41L533.39 152.81Z" fill="#ff4d66"/>
<path d="M543.11 150.23L538.39 147.53L538.39 152.93Z" fill="#ff4d66"/>
<path d="M548.11 150.33L543.38 147.63L543.38 153.03Z" fill="#ff4d66"/>
<path d="M553.10 150.40L548.38 147.70L548.38 153.10Z" fill="#ff4d66"/>
<path d="M558.10 150.46L553.37 147.76L553.37 153.16Z" fill="#ff4d66"/>
<path d="M563.09 150.52L558.37 147.82L558.37 153.22Z" fill="#ff4d66"/>
<path d="M568.09 150.58L563.36 147.88L563.36 153.28Z" fill="#ff4d66"/>
<path d="M573.08 150.63L568.36 147.93L568.36 153.33Z" fill="#ff4d66"/>
<path d="M578.08 150.68L573.35 147.98L573.35 153.38Z" fill="#ff4d66"/>
<path d="M583.07 150.72L578.35 148.02L578.35 153.42Z" fill="#ff4d66"/>
<path d="M588.07 150.76L583.34 148.06L583.34 153.46Z" fill="#ff4d66"/>
<path d="M593.06 150.78L588.34 148.08L588.34 153.48Z" fill="#ff4d66"/>
<path d="M598.06 150.80L593.33 148.10L593.33 153.50Z" fill="#ff4d66"/>
<path d="M603.05 150.80L598.33 148.10L598.33 153.50Z" fill="#ff4d66"/>
<path d="M350.60 43.40L358.93 71.61L367.25 95.39L375.58 114.33L383.90 129.65L392.23 142.94L400.55 156.24L408.88 165.92L417.20 173.17L425.53 178.81L433.85 183.25L442.18 186.87L450.50 190.10L458.83 192.51L467.15 194.13L475.48 195.43L483.80 196.54L492.12 197.53L500.45 198.36L508.77 199.05L517.10 199.57L525.42 199.91L533.75 200.20L542.08 200.42L550.40 200.57L558.73 200.68L567.05 200.78L575.38 200.86L583.70 200.92L592.02 200.96L600.35 200.98" fill="none" stroke="#c8c8c8" stroke-width="0.6"/>
<path d="M347.90 43.40L352.62 40.70L352.62 46.10Z" fill="#a0a0a0"/>
<path d="M356.23 71.61L360.95 68.91L360.95 74.31Z" fill="#a0a0a0"/>
<path d="M364.55 95.39L369.27 92.69L369.27 98.09Z" fill="#a0a0a0"/>
<path d="M372.88 114.33L377.60 111.63L377.60 117.03Z" fill="#a0a0a0"/>
<path d="M381.20 129.65L385.93 126.95L385.93 132.35Z" fill="#a0a0a0"/>
<path d="M389.53 142.94L394.25 140.25L394.25 145.64Z" fill="#a0a0a0"/>
<path d="M397.85 156.24L402.57 153.54L402.57 158.94Z" fill="#a0a0a0"/>
<path d="M406.18 165.92L410.90 163.22L410.90 168.62Z" fill="#a0a0a0"/>
<path d="M414.50 173.17L419.23 170.47L419.23 175.87Z" fill="#a0a0a0"/>
<path d="M422.83 178.81L427.55 176.11L427.55 181.51Z" fill="#a0a0a0"/>
<path d="M431.15 183.25L435.88 180.55L435.88 185.94Z" fill="#a0a0a0"/>
<path d="M439.48 186.87L444.20 184.17L444.20 189.57Z" fill="#a0a0a0"/>
<path d="M447.80 190.10L452.52 187.40L452.52 192.80Z" fill="#a0a0a0"/>
<path d="M456.13 192.51L460.85 189.81L460.85 195.21Z" fill="#a0a0a0"/>
<path d="M464.45 194.13L469.17 191.43L469.17 196.83Z" fill="#a0a0a0"/>
<path d="M472.78 195.43L477.50 192.73L477.50 198.13Z" fill="#a0a0a0"/>
<path d="M481.10 196.54L485.82 193.84L485.82 199.24Z" fill="#a0a0a0"/>
<path d="M489.43 197.53L494.15 194.83L494.15 200.23Z" fill="#a0a0a0"/>
<path d="M497.75 198.36L502.48 195.66L502.48 201.06Z" fill="#a0a0a0"/>
<path d="M506.07 199.05L510.80 196.35L510.80 201.75Z" fill="#a0a0a0"/>
<path d="M514.40 199.57L519.12 196.87L519.12 202.27Z" fill="#a0a0a0"/>
<path d="M522.72 199.91L527.45 197.21L527.45 202.61Z" fill="#a0a0a0"/>
<path d="M531.05 200.20L535.77 197.50L535.77 202.90Z" fill="#a0a0a0"/>
<path d="M539.38 200.42L544.10 197.72L544.10 203.12Z" fill="#a0a0a0"/>
<path d="M547.70 200.57L552.42 197.87L552.42 203.27Z" fill="#a0a0a0"/>
<path d="M556.02 200.68L560.75 197.98L560.75 203.38Z" fill="#a0a0a0"/>
<path d="M564.35 200.78L569.07 198.08L569.07 203.48Z" fill="#a0a0a0"/>
<path d="M572.67 200.86L577.40 198.16L577.40 203.56Z" fill="#a0a0a0"/>
<path d="M581.00 200.92L585.73 198.22L585.73 203.62Z" fill="#a0a0a0"/>
<path d="M589.32 200.96L594.05 198.26L594.05 203.66Z" fill="#a0a0a0"/>
<path d="M597.65 200.98L602.38 198.28L602.38 203.68Z" fill="#a0a0a0"/>
<path d="M350.60 43.40L355.60 65.97L360.59 80.08L365.59 92.57L370.58 103.85L375.58 114.33L380.57 124.41L385.56 134.08L390.56 142.54L395.56 149.80L400.55 156.24L405.55 161.48L410.54 166.12L415.54 169.74L420.53 172.77L425.53 175.39L430.52 177.80L435.51 179.82L440.51 181.63L445.50 183.25L450.50 184.66L455.50 185.80L460.49 186.78L465.49 187.63L470.48 188.35L475.48 189.00L480.47 189.57L485.47 190.04L490.46 190.44L495.46 190.80L500.45 191.10L505.44 191.39L510.44 191.65L515.43 191.86L520.43 192.00L525.42 192.12L530.42 192.23L535.41 192.33L540.41 192.41L545.40 192.47L550.40 192.51L555.39 192.55L560.39 192.58L565.38 192.61L570.38 192.63L575.38 192.66L580.37 192.68L585.37 192.69L590.36 192.71L595.36 192.71L600.35 192.72" fill="none" stroke="#9a9ac8" stroke-width="0.6"/>
<path d="M350.60 40.70L353.30 43.40L350.60 46.10L347.90 43.40Z" fill="#565aa0"/>
<path d="M355.60 63.27L358.30 65.97L355.60 68.67L352.90 65.97Z" fill="#565aa0"/>
<path d="M360.59 77.38L363.29 80.08L360.59 82.78L357.89 80.08Z" fill="#565aa0"/>
<path d="M365.59 89.87L368.29 92.57L365.59 95.27L362.89 92.57Z" fill="#565aa0"/>
<path d="M370.58 101.15L373.28 103.85L370.58 106.55L367.88 103.85Z" fill="#565aa0"/>
<path d="M375.58 111.63L378.28 114.33L375.58 117.03L372.88 114.33Z" fill="#565aa0"/>
<path d="M380.57 121.71L383.27 124.41L380.57 127.11L377.87 124.41Z" fill="#565aa0"/>
<path d="M385.56 131.38L388.26 134.08L385.56 136.78L382.87 134.08Z" fill="#565aa0"/>
<path d="M390.56 139.84L393.26 142.54L390.56 145.24L387.86 142.54Z" fill="#565aa0"/>
<path d="M395.56 147.10L398.25 149.80L395.56 152.50L392.86 149.80Z" fill="#565aa0"/>
<path d="M400.55 153.54L403.25 156.24L400.55 158.94L397.85 156.24Z" fill="#565aa0"/>
<path d="M405.55 158.78L408.25 161.48L405.55 164.18L402.85 161.48Z" fill="#565aa0"/>
<path d="M410.54 163.42L413.24 166.12L410.54 168.82L407.84 166.12Z" fill="#565aa0"/>
<path d="M415.54 167.04L418.24 169.74L415.54 172.44L412.84 169.74Z" fill="#565aa0"/>
<path d="M420.53 170.07L423.23 172.77L420.53 175.47L417.83 172.77Z" fill="#565aa0"/>
<path d="M425.53 172.69L428.23 175.39L425.53 178.09L422.83 175.39Z" fill="#565aa0"/>
<path d="M430.52 175.10L433.22 177.80L430.52 180.50L427.82 177.80Z" fill="#565aa0"/>
<path d="M435.51 177.12L438.21 179.82L435.51 182.52L432.81 179.82Z" fill="#565aa0"/>
<path d="M440.51 178.93L443.21 181.63L440.51 184.33L437.81 181.63Z" fill="#565aa0"/>
<path d="M445.50 180.55L448.20 183.25L445.50 185.94L442.81 183.25Z" fill="#565aa0"/>
<path d="M450.50 181.96L453.20 184.66L450.50 187.36L447.80 184.66Z" fill="#565aa0"/>
<path d="M455.50 183.10L458.19 185.80L455.50 188.50L452.80 185.80Z" fill="#565aa0"/>
<path d="M460.49 184.08L463.19 186.78L460.49 189.48L457.79 186.78Z" fill="#565aa0"/>
<path d="M465.49 184.93L468.19 187.63L465.49 190.33L462.79 187.63Z" fill="#565aa0"/>
<path d="M470.48 185.65L473.18 188.35L470.48 191.05L467.78 188.35Z" fill="#565aa0"/>
<path d="M475.48 186.30L478.18 189.00L475.48 191.70L472.78 189.00Z" fill="#565aa0"/>
<path d="M480.47 186.87L483.17 189.57L480.47 192.27L477.77 189.57Z" fill="#565aa0"/>
<path d="M485.47 187.34L488.17 190.04L485.47 192.74L482.77 190.04Z" fill="#565aa0"/>
<path d="M490.46 187.74L493.16 190.44L490.46 193.14L487.76 190.44Z" fill="#565aa0"/>
<path d="M495.46 188.10L498.16 190.80L495.46 193.50L492.76 190.80Z" fill="#565aa0"/>
<path d="M500.45 188.40L503.15 191.10L500.45 193.80L497.75 191.10Z" fill="#565aa0"/>
<path d="M505.44 188.69L508.14 191.39L505.44 194.09L502.75 191.39Z" fill="#565aa0"/>
<path d="M510.44 188.95L513.14 191.65L510.44 194.35L507.74 191.65Z" fill="#565aa0"/>
<path d="M515.43 189.16L518.13 191.86L515.43 194.56L512.73 191.86Z" fill="#565aa0"/>
<path d="M520.43 189.30L523.13 192.00L520.43 194.70L517.73 192.00Z" fill="#565aa0"/>
<path d="M525.42 189.42L528.12 192.12L525.42 194.82L522.72 192.12Z" fill="#565aa0"/>
<path d="M530.42 189.53L533.12 192.23L530.42 194.93L527.72 192.23Z" fill="#565aa0"/>
<path d="M535.41 189.63L538.12 192.33L535.41 195.03L532.71 192.33Z" fill="#565aa0"/>
<path d="M540.41 189.71L543.11 192.41L540.41 195.11L537.71 192.41Z" fill="#565aa0"/>
<path d="M545.40 189.77L548.11 192.47L545.40 195.17L542.70 192.47Z" fill="#565aa0"/>
<path d="M550.40 189.81L553.10 192.51L550.40 195.21L547.70 192.51Z" fill="#565aa0"/>
<path d="M555.39 189.85L558.10 192.55L555.39 195.25L552.69 192.55Z" fill="#565aa0"/>
<path d="M560.39 189.88L563.09 192.58L560.39 195.28L557.69 192.58Z" fill="#565aa0"/>
<path d="M565.38 189.91L568.09 192.61L565.38 195.31L562.68 192.61Z" fill="#565aa0"/>
<path d="M570.38 189.93L573.08 192.63L570.38 195.33L567.68 192.63Z" fill="#565aa0"/>
<path d="M575.38 189.96L578.08 192.66L575.38 195.36L572.67 192.66Z" fill="#565aa0"/>
<path d="M580.37 189.98L583.07 192.68L580.37 195.38L577.67 192.68Z" fill="#565aa0"/>
<path d="M585.37 189.99L588.07 192.69L585.37 195.39L582.66 192.69Z" fill="#565aa0"/>
<path d="M590.36 190.01L593.06 192.71L590.36 195.41L587.66 192.71Z" fill="#565aa0"/>
<path d="M595.36 190.01L598.06 192.71L595.36 195.41L592.65 192.71Z" fill="#565aa0"/>
<path d="M600.35 190.02L603.05 192.72L600.35 195.42L597.65 192.72Z" fill="#565aa0"/>
<path d="M350.60 41.20L353.17 43.07L352.19 46.09L349.01 46.09L348.03 43.07Z" fill="#159a9a"/>
</g>
<g font-family="Liberation Sans, sans-serif" fill="#1a1a1a">
<line x1="473" y1="29.0" x2="496" y2="29.0" stroke="#a0e0b0" stroke-width="0.8"/>
<path d="M484.40 31.50L486.90 27.12L481.90 27.12Z" fill="#2dbe5e"/>
<text x="498.56" y="33.10" font-size="9.8">400</text><text x="516.00" y="31.60" font-size="6.4">°</text><text x="0" y="33.40" font-size="10.9" fill="#5a5a5a" transform="translate(517.62 0) scale(0.88 1)">C</text><text x="525.58" y="33.10" font-size="9.6">-Experimental</text>
<line x1="473" y1="41.8" x2="496" y2="41.8" stroke="#a0d0d0" stroke-width="0.8"/>
<path d="M484.40 39.80L486.78 41.53L485.87 44.32L482.93 44.32L482.02 41.53Z" fill="#009696"/>
<text x="498.56" y="45.80" font-size="9.8">400</text><text x="516.00" y="44.30" font-size="6.4">°</text><text x="0" y="46.10" font-size="10.9" fill="#5a5a5a" transform="translate(517.62 0) scale(0.88 1)">C</text><text x="525.58" y="45.80" font-size="9.6">-Simulation</text>
<line x1="470" y1="66.6" x2="493" y2="66.6" stroke="#ffa0a0" stroke-width="0.8"/>
<rect x="479.40" y="64.40" width="4.40" height="4.40" fill="#ff0000"/>
<text x="496.16" y="69.60" font-size="9.8">300</text><text x="513.40" y="68.10" font-size="6.4">°</text><text x="0" y="69.90" font-size="10.9" fill="#5a5a5a" transform="translate(515.02 0) scale(0.88 1)">C</text><text x="522.98" y="69.60" font-size="9.6">-Experimental</text>
<line x1="470" y1="79.4" x2="493" y2="79.4" stroke="#e8b070" stroke-width="0.8"/>
<path d="M481.60 76.80L482.39 78.71L484.45 78.87L482.88 80.22L483.36 82.23L481.60 81.15L479.84 82.23L480.32 80.22L478.75 78.87L480.81 78.71Z" fill="#cc6a14"/>
<text x="496.16" y="82.40" font-size="9.8">300</text><text x="513.40" y="80.90" font-size="6.4">°</text><text x="0" y="82.70" font-size="10.9" fill="#5a5a5a" transform="translate(515.02 0) scale(0.88 1)">C</text><text x="522.98" y="82.40" font-size="9.6">-Simulation</text>
<line x1="456.7" y1="103.5" x2="480" y2="103.5" stroke="#a8c4e8" stroke-width="0.8"/>
<circle cx="468.30" cy="103.50" r="2.40" fill="#5b95d5"/>
<text x="482.36" y="107.10" font-size="9.8">200</text><text x="499.50" y="105.60" font-size="6.4">°</text><text x="0" y="107.40" font-size="10.9" fill="#5a5a5a" transform="translate(501.12 0) scale(0.88 1)">C</text><text x="509.08" y="107.10" font-size="9.6">-Experimental</text>
<line x1="456.7" y1="116.2" x2="480" y2="116.2" stroke="#7890c0" stroke-width="0.8"/>
<circle cx="468.30" cy="116.20" r="2.40" fill="#2a5a9a"/>
<text x="482.36" y="119.80" font-size="9.8">200</text><text x="499.50" y="118.30" font-size="6.4">°</text><text x="0" y="120.10" font-size="10.9" fill="#5a5a5a" transform="translate(501.12 0) scale(0.88 1)">C</text><text x="509.08" y="119.80" font-size="9.6">-Simulation</text>
<line x1="475" y1="161.7" x2="498" y2="161.7" stroke="#ffa0a8" stroke-width="0.8"/>
<path d="M489.70 161.70L484.98 159.00L484.98 164.40Z" fill="#ff4d66"/>
<text x="504.46" y="165.40" font-size="9.8">100</text><text x="521.10" y="163.90" font-size="6.4">°</text><text x="0" y="165.70" font-size="10.9" fill="#5a5a5a" transform="translate(522.72 0) scale(0.88 1)">C</text><text x="529.98" y="165.40" font-size="9.6">-Experimental</text>
<line x1="475" y1="174.5" x2="498" y2="174.5" stroke="#ffd870" stroke-width="0.8"/>
<path d="M486.40 171.80L489.10 176.53L483.70 176.53Z" fill="#ffb400"/>
<text x="501.76" y="177.90" font-size="9.8">100</text><text x="518.90" y="176.40" font-size="6.4">°</text><text x="0" y="178.20" font-size="10.9" fill="#5a5a5a" transform="translate(520.52 0) scale(0.88 1)">C</text><text x="527.78" y="177.90" font-size="9.6">-Simulation</text>
<line x1="353.4" y1="195.0" x2="376.5" y2="195.0" stroke="#c8c8c8" stroke-width="0.8"/>
<path d="M362.10 195.00L366.82 192.30L366.82 197.70Z" fill="#a0a0a0"/>
<text x="379.26" y="198.80" font-size="9.8">25</text><text x="391.10" y="197.30" font-size="6.4">°</text><text x="0" y="199.10" font-size="10.9" fill="#5a5a5a" transform="translate(392.72 0) scale(0.88 1)">C</text><text x="400.68" y="198.80" font-size="9.6">-Experimental</text>
<line x1="353.4" y1="208.5" x2="376.5" y2="208.5" stroke="#b0b0d8" stroke-width="0.8"/>
<path d="M365.00 205.60L367.90 208.50L365.00 211.40L362.10 208.50Z" fill="#565aa0"/>
<text x="382.16" y="211.60" font-size="9.8">25</text><text x="393.60" y="210.10" font-size="6.4">°</text><text x="0" y="211.90" font-size="10.9" fill="#5a5a5a" transform="translate(395.22 0) scale(0.88 1)">C</text><text x="403.18" y="211.60" font-size="9.6">-Simulation</text>
</g>
</svg>
</body></html>
